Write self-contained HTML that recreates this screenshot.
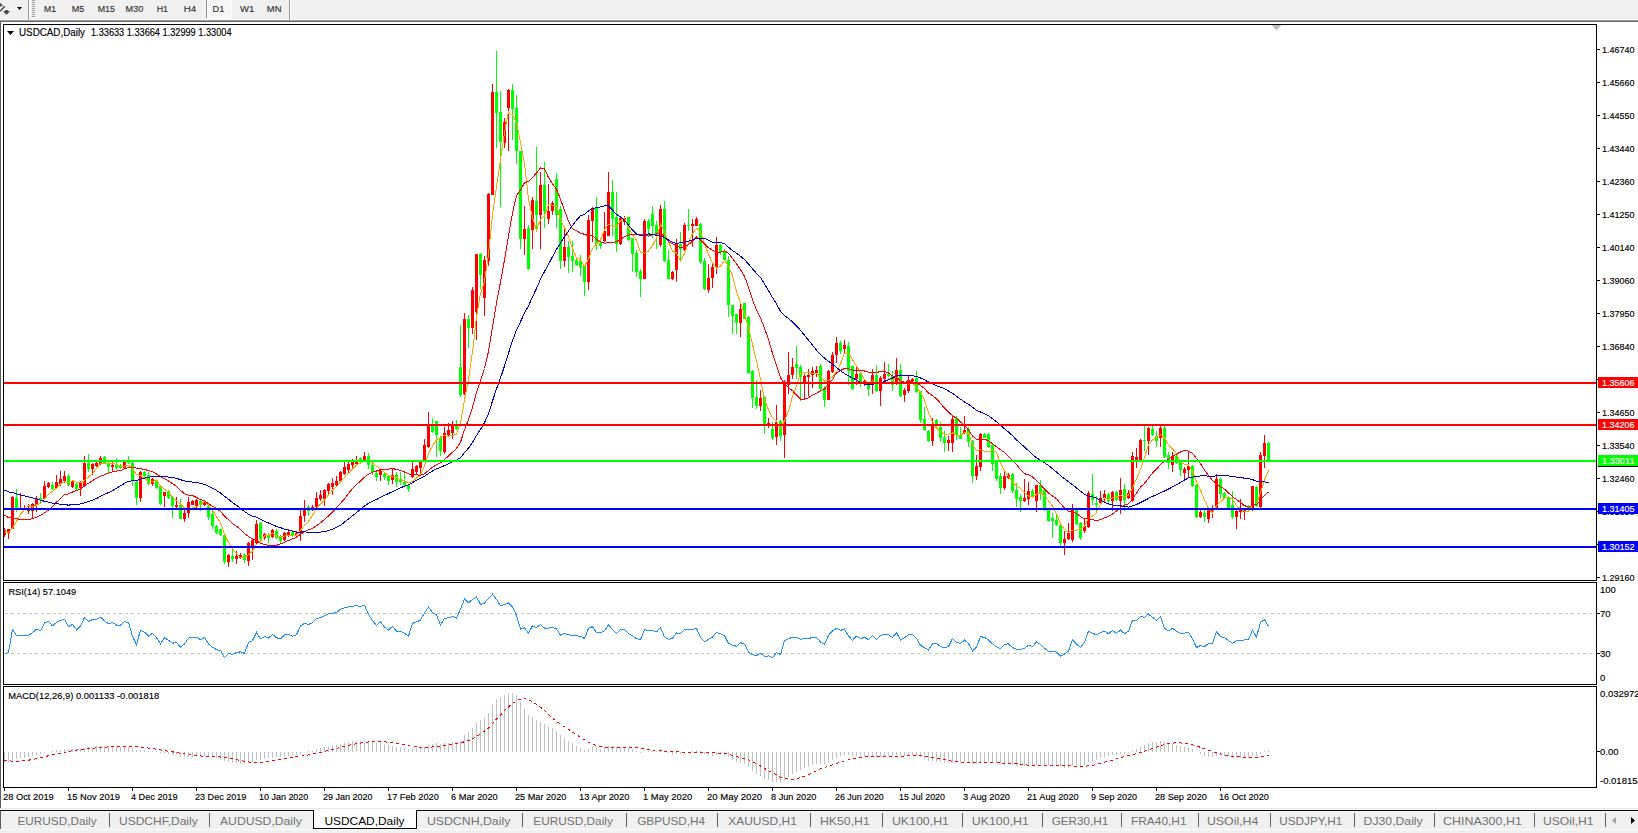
<!DOCTYPE html>
<html><head><meta charset="utf-8"><style>
html,body{margin:0;padding:0;background:#fff;width:1638px;height:833px;overflow:hidden}
svg{display:block;font-family:"Liberation Sans",sans-serif}
text{stroke:currentColor;stroke-width:0.15px}
text.t{stroke:none}
</style></head><body>
<svg width="1638" height="833" viewBox="0 0 1638 833">
<rect x="0" y="0" width="1638" height="19" fill="#f0f0f0"/>
<rect x="0" y="19" width="1638" height="1" fill="#f7f7f7"/>
<rect x="0" y="20" width="1638" height="1" fill="#a0a0a0"/>
<rect x="0" y="21" width="1638" height="1" fill="#6a6a6a"/>
<rect x="0" y="22" width="1638" height="2" fill="#ffffff"/>
<path d="M0 2.8 L3 5.4 L0 6.8 Z" fill="#484848"/>
<path d="M0 11.3 L4.8 6.3" stroke="#484848" stroke-width="1.5" fill="none"/>
<path d="M5.2 10 L7.8 10 L7.8 11 L10 11 L6.5 15 L3 11 L5.2 11 Z" fill="#484848"/>
<path d="M17 7 L22 7 L19.5 10 Z" fill="#000"/>
<rect x="28" y="0" width="1" height="20" fill="#9a9a9a"/>
<rect x="29" y="0" width="1" height="20" fill="#ffffff"/>
<rect x="32" y="0" width="3" height="1" fill="#a0a0a0"/>
<rect x="32" y="2" width="3" height="1" fill="#a0a0a0"/>
<rect x="32" y="4" width="3" height="1" fill="#a0a0a0"/>
<rect x="32" y="6" width="3" height="1" fill="#a0a0a0"/>
<rect x="32" y="8" width="3" height="1" fill="#a0a0a0"/>
<rect x="32" y="10" width="3" height="1" fill="#a0a0a0"/>
<rect x="32" y="12" width="3" height="1" fill="#a0a0a0"/>
<rect x="32" y="14" width="3" height="1" fill="#a0a0a0"/>
<rect x="32" y="16" width="3" height="1" fill="#a0a0a0"/>
<pattern id="chk" width="2" height="2" patternUnits="userSpaceOnUse"><rect width="2" height="2" fill="#f0f0f0"/><rect width="1" height="1" fill="#fff"/><rect x="1" y="1" width="1" height="1" fill="#fff"/></pattern>
<rect x="207" y="0" width="24" height="18" fill="url(#chk)"/>
<rect x="206" y="0" width="1" height="18" fill="#8c8c8c"/>
<rect x="231" y="0" width="1" height="19" fill="#ffffff"/>
<rect x="206" y="18" width="26" height="1" fill="#ffffff"/>
<rect x="289" y="0" width="1" height="20" fill="#9a9a9a"/>
<rect x="290" y="0" width="1" height="20" fill="#ffffff"/>
<text x="43.90" y="12.00" font-size="9.5" fill="#303030" color="#303030" textLength="12.10" lengthAdjust="spacingAndGlyphs">M1</text>
<text x="71.70" y="12.00" font-size="9.5" fill="#303030" color="#303030" textLength="12.50" lengthAdjust="spacingAndGlyphs">M5</text>
<text x="97.70" y="12.00" font-size="9.5" fill="#303030" color="#303030" textLength="17.30" lengthAdjust="spacingAndGlyphs">M15</text>
<text x="125.60" y="12.00" font-size="9.5" fill="#303030" color="#303030" textLength="17.60" lengthAdjust="spacingAndGlyphs">M30</text>
<text x="156.70" y="12.00" font-size="9.5" fill="#303030" color="#303030" textLength="11.30" lengthAdjust="spacingAndGlyphs">H1</text>
<text x="183.70" y="12.00" font-size="9.5" fill="#303030" color="#303030" textLength="12.40" lengthAdjust="spacingAndGlyphs">H4</text>
<text x="212.60" y="12.00" font-size="9.5" fill="#303030" color="#303030" textLength="11.80" lengthAdjust="spacingAndGlyphs">D1</text>
<text x="240.10" y="12.00" font-size="9.5" fill="#303030" color="#303030" textLength="14.30" lengthAdjust="spacingAndGlyphs">W1</text>
<text x="266.80" y="12.00" font-size="9.5" fill="#303030" color="#303030" textLength="14.70" lengthAdjust="spacingAndGlyphs">MN</text>
<rect x="0" y="22" width="1" height="786" fill="#5c5c5c"/>
<g shape-rendering="crispEdges">
<rect x="3.5" y="24.5" width="1593" height="556" fill="none" stroke="#000" stroke-width="1"/>
</g>
<clipPath id="cm"><rect x="4" y="25" width="1592" height="555"/></clipPath>
<clipPath id="cr"><rect x="4" y="583" width="1592" height="101"/></clipPath>
<clipPath id="cd"><rect x="4" y="687" width="1592" height="100"/></clipPath>
<g clip-path="url(#cm)" shape-rendering="crispEdges">
<rect x="4" y="528" width="1" height="9" fill="#ff0000"/>
<rect x="3" y="530" width="3" height="5" fill="#ff0000"/>
<rect x="8" y="529" width="1" height="10" fill="#ff0000"/>
<rect x="7" y="529" width="3" height="4" fill="#ff0000"/>
<rect x="12" y="496" width="1" height="33" fill="#ff0000"/>
<rect x="11" y="497" width="3" height="32" fill="#ff0000"/>
<rect x="16" y="489" width="1" height="23" fill="#00ff00"/>
<rect x="15" y="498" width="3" height="10" fill="#00ff00"/>
<rect x="20" y="493" width="1" height="16" fill="#ff0000"/>
<rect x="19" y="508" width="3" height="1" fill="#ff0000"/>
<rect x="24" y="505" width="1" height="5" fill="#ff0000"/>
<rect x="23" y="508" width="3" height="2" fill="#ff0000"/>
<rect x="28" y="504" width="1" height="10" fill="#ff0000"/>
<rect x="27" y="508" width="3" height="3" fill="#ff0000"/>
<rect x="32" y="503" width="1" height="15" fill="#ff0000"/>
<rect x="31" y="504" width="3" height="7" fill="#ff0000"/>
<rect x="36" y="496" width="1" height="16" fill="#ff0000"/>
<rect x="35" y="498" width="3" height="7" fill="#ff0000"/>
<rect x="40" y="493" width="1" height="11" fill="#00ff00"/>
<rect x="39" y="498" width="3" height="2" fill="#00ff00"/>
<rect x="44" y="481" width="1" height="19" fill="#ff0000"/>
<rect x="43" y="486" width="3" height="13" fill="#ff0000"/>
<rect x="48" y="482" width="1" height="6" fill="#ff0000"/>
<rect x="47" y="483" width="3" height="4" fill="#ff0000"/>
<rect x="52" y="482" width="1" height="8" fill="#00ff00"/>
<rect x="51" y="485" width="3" height="4" fill="#00ff00"/>
<rect x="56" y="475" width="1" height="14" fill="#ff0000"/>
<rect x="55" y="482" width="3" height="6" fill="#ff0000"/>
<rect x="60" y="471" width="1" height="15" fill="#ff0000"/>
<rect x="59" y="479" width="3" height="5" fill="#ff0000"/>
<rect x="64" y="471" width="1" height="12" fill="#ff0000"/>
<rect x="63" y="476" width="3" height="5" fill="#ff0000"/>
<rect x="68" y="474" width="1" height="12" fill="#00ff00"/>
<rect x="67" y="476" width="3" height="9" fill="#00ff00"/>
<rect x="72" y="481" width="1" height="7" fill="#ff0000"/>
<rect x="71" y="481" width="3" height="6" fill="#ff0000"/>
<rect x="76" y="482" width="1" height="8" fill="#00ff00"/>
<rect x="75" y="484" width="3" height="5" fill="#00ff00"/>
<rect x="80" y="481" width="1" height="15" fill="#ff0000"/>
<rect x="79" y="482" width="3" height="6" fill="#ff0000"/>
<rect x="84" y="456" width="1" height="31" fill="#ff0000"/>
<rect x="83" y="463" width="3" height="23" fill="#ff0000"/>
<rect x="88" y="454" width="1" height="18" fill="#00ff00"/>
<rect x="87" y="463" width="3" height="6" fill="#00ff00"/>
<rect x="92" y="463" width="1" height="12" fill="#ff0000"/>
<rect x="91" y="464" width="3" height="5" fill="#ff0000"/>
<rect x="96" y="462" width="1" height="5" fill="#ff0000"/>
<rect x="95" y="463" width="3" height="3" fill="#ff0000"/>
<rect x="100" y="456" width="1" height="9" fill="#ff0000"/>
<rect x="99" y="458" width="3" height="6" fill="#ff0000"/>
<rect x="104" y="456" width="1" height="8" fill="#00ff00"/>
<rect x="103" y="457" width="3" height="6" fill="#00ff00"/>
<rect x="108" y="462" width="1" height="12" fill="#00ff00"/>
<rect x="107" y="464" width="3" height="3" fill="#00ff00"/>
<rect x="112" y="461" width="1" height="10" fill="#ff0000"/>
<rect x="111" y="465" width="3" height="2" fill="#ff0000"/>
<rect x="116" y="458" width="1" height="12" fill="#00ff00"/>
<rect x="115" y="465" width="3" height="3" fill="#00ff00"/>
<rect x="120" y="464" width="1" height="5" fill="#00ff00"/>
<rect x="119" y="465" width="3" height="3" fill="#00ff00"/>
<rect x="124" y="461" width="1" height="8" fill="#ff0000"/>
<rect x="123" y="462" width="3" height="6" fill="#ff0000"/>
<rect x="128" y="456" width="1" height="8" fill="#00ff00"/>
<rect x="127" y="460" width="3" height="3" fill="#00ff00"/>
<rect x="132" y="461" width="1" height="25" fill="#00ff00"/>
<rect x="131" y="463" width="3" height="18" fill="#00ff00"/>
<rect x="136" y="481" width="1" height="24" fill="#00ff00"/>
<rect x="135" y="482" width="3" height="16" fill="#00ff00"/>
<rect x="140" y="471" width="1" height="31" fill="#ff0000"/>
<rect x="139" y="472" width="3" height="26" fill="#ff0000"/>
<rect x="144" y="471" width="1" height="7" fill="#00ff00"/>
<rect x="143" y="472" width="3" height="4" fill="#00ff00"/>
<rect x="148" y="472" width="1" height="13" fill="#00ff00"/>
<rect x="147" y="475" width="3" height="9" fill="#00ff00"/>
<rect x="152" y="478" width="1" height="8" fill="#ff0000"/>
<rect x="151" y="479" width="3" height="5" fill="#ff0000"/>
<rect x="156" y="479" width="1" height="10" fill="#00ff00"/>
<rect x="155" y="481" width="3" height="7" fill="#00ff00"/>
<rect x="160" y="486" width="1" height="19" fill="#00ff00"/>
<rect x="159" y="486" width="3" height="18" fill="#00ff00"/>
<rect x="164" y="492" width="1" height="15" fill="#ff0000"/>
<rect x="163" y="492" width="3" height="4" fill="#ff0000"/>
<rect x="168" y="490" width="1" height="9" fill="#00ff00"/>
<rect x="167" y="491" width="3" height="7" fill="#00ff00"/>
<rect x="172" y="496" width="1" height="22" fill="#00ff00"/>
<rect x="171" y="497" width="3" height="9" fill="#00ff00"/>
<rect x="176" y="497" width="1" height="13" fill="#ff0000"/>
<rect x="175" y="505" width="3" height="2" fill="#ff0000"/>
<rect x="180" y="499" width="1" height="20" fill="#00ff00"/>
<rect x="179" y="505" width="3" height="14" fill="#00ff00"/>
<rect x="184" y="510" width="1" height="12" fill="#ff0000"/>
<rect x="183" y="513" width="3" height="6" fill="#ff0000"/>
<rect x="188" y="497" width="1" height="21" fill="#ff0000"/>
<rect x="187" y="502" width="3" height="11" fill="#ff0000"/>
<rect x="192" y="500" width="1" height="5" fill="#ff0000"/>
<rect x="191" y="501" width="3" height="4" fill="#ff0000"/>
<rect x="196" y="499" width="1" height="11" fill="#ff0000"/>
<rect x="195" y="500" width="3" height="6" fill="#ff0000"/>
<rect x="200" y="499" width="1" height="12" fill="#00ff00"/>
<rect x="199" y="501" width="3" height="4" fill="#00ff00"/>
<rect x="204" y="501" width="1" height="5" fill="#ff0000"/>
<rect x="203" y="502" width="3" height="3" fill="#ff0000"/>
<rect x="208" y="505" width="1" height="15" fill="#00ff00"/>
<rect x="207" y="506" width="3" height="11" fill="#00ff00"/>
<rect x="212" y="511" width="1" height="18" fill="#00ff00"/>
<rect x="211" y="514" width="3" height="12" fill="#00ff00"/>
<rect x="216" y="525" width="1" height="9" fill="#00ff00"/>
<rect x="215" y="526" width="3" height="7" fill="#00ff00"/>
<rect x="220" y="529" width="1" height="7" fill="#00ff00"/>
<rect x="219" y="529" width="3" height="6" fill="#00ff00"/>
<rect x="224" y="534" width="1" height="30" fill="#00ff00"/>
<rect x="223" y="535" width="3" height="27" fill="#00ff00"/>
<rect x="228" y="554" width="1" height="13" fill="#ff0000"/>
<rect x="227" y="555" width="3" height="7" fill="#ff0000"/>
<rect x="232" y="550" width="1" height="12" fill="#00ff00"/>
<rect x="231" y="556" width="3" height="3" fill="#00ff00"/>
<rect x="236" y="551" width="1" height="13" fill="#ff0000"/>
<rect x="235" y="556" width="3" height="3" fill="#ff0000"/>
<rect x="240" y="553" width="1" height="6" fill="#ff0000"/>
<rect x="239" y="555" width="3" height="3" fill="#ff0000"/>
<rect x="244" y="554" width="1" height="9" fill="#00ff00"/>
<rect x="243" y="555" width="3" height="5" fill="#00ff00"/>
<rect x="248" y="542" width="1" height="24" fill="#ff0000"/>
<rect x="247" y="543" width="3" height="18" fill="#ff0000"/>
<rect x="252" y="538" width="1" height="22" fill="#ff0000"/>
<rect x="251" y="540" width="3" height="7" fill="#ff0000"/>
<rect x="256" y="520" width="1" height="25" fill="#ff0000"/>
<rect x="255" y="524" width="3" height="19" fill="#ff0000"/>
<rect x="260" y="522" width="1" height="18" fill="#00ff00"/>
<rect x="259" y="523" width="3" height="16" fill="#00ff00"/>
<rect x="264" y="533" width="1" height="7" fill="#ff0000"/>
<rect x="263" y="534" width="3" height="4" fill="#ff0000"/>
<rect x="268" y="533" width="1" height="10" fill="#00ff00"/>
<rect x="267" y="535" width="3" height="3" fill="#00ff00"/>
<rect x="272" y="529" width="1" height="9" fill="#ff0000"/>
<rect x="271" y="530" width="3" height="7" fill="#ff0000"/>
<rect x="276" y="529" width="1" height="10" fill="#00ff00"/>
<rect x="275" y="531" width="3" height="7" fill="#00ff00"/>
<rect x="280" y="535" width="1" height="8" fill="#00ff00"/>
<rect x="279" y="537" width="3" height="4" fill="#00ff00"/>
<rect x="284" y="532" width="1" height="9" fill="#ff0000"/>
<rect x="283" y="533" width="3" height="7" fill="#ff0000"/>
<rect x="288" y="529" width="1" height="8" fill="#ff0000"/>
<rect x="287" y="532" width="3" height="4" fill="#ff0000"/>
<rect x="292" y="530" width="1" height="7" fill="#00ff00"/>
<rect x="291" y="532" width="3" height="4" fill="#00ff00"/>
<rect x="296" y="531" width="1" height="6" fill="#ff0000"/>
<rect x="295" y="533" width="3" height="2" fill="#ff0000"/>
<rect x="300" y="510" width="1" height="31" fill="#ff0000"/>
<rect x="299" y="516" width="3" height="17" fill="#ff0000"/>
<rect x="304" y="500" width="1" height="22" fill="#ff0000"/>
<rect x="303" y="509" width="3" height="7" fill="#ff0000"/>
<rect x="308" y="505" width="1" height="11" fill="#00ff00"/>
<rect x="307" y="507" width="3" height="4" fill="#00ff00"/>
<rect x="312" y="505" width="1" height="6" fill="#ff0000"/>
<rect x="311" y="507" width="3" height="3" fill="#ff0000"/>
<rect x="316" y="492" width="1" height="17" fill="#ff0000"/>
<rect x="315" y="498" width="3" height="9" fill="#ff0000"/>
<rect x="320" y="490" width="1" height="11" fill="#ff0000"/>
<rect x="319" y="495" width="3" height="4" fill="#ff0000"/>
<rect x="324" y="489" width="1" height="17" fill="#ff0000"/>
<rect x="323" y="490" width="3" height="9" fill="#ff0000"/>
<rect x="328" y="483" width="1" height="12" fill="#ff0000"/>
<rect x="327" y="484" width="3" height="7" fill="#ff0000"/>
<rect x="332" y="478" width="1" height="17" fill="#ff0000"/>
<rect x="331" y="483" width="3" height="4" fill="#ff0000"/>
<rect x="336" y="476" width="1" height="10" fill="#ff0000"/>
<rect x="335" y="481" width="3" height="4" fill="#ff0000"/>
<rect x="340" y="471" width="1" height="11" fill="#ff0000"/>
<rect x="339" y="472" width="3" height="9" fill="#ff0000"/>
<rect x="344" y="462" width="1" height="13" fill="#ff0000"/>
<rect x="343" y="467" width="3" height="7" fill="#ff0000"/>
<rect x="348" y="461" width="1" height="12" fill="#ff0000"/>
<rect x="347" y="464" width="3" height="6" fill="#ff0000"/>
<rect x="352" y="459" width="1" height="11" fill="#ff0000"/>
<rect x="351" y="462" width="3" height="3" fill="#ff0000"/>
<rect x="356" y="456" width="1" height="10" fill="#ff0000"/>
<rect x="355" y="460" width="3" height="4" fill="#ff0000"/>
<rect x="360" y="457" width="1" height="7" fill="#00ff00"/>
<rect x="359" y="458" width="3" height="3" fill="#00ff00"/>
<rect x="364" y="452" width="1" height="9" fill="#ff0000"/>
<rect x="363" y="456" width="3" height="4" fill="#ff0000"/>
<rect x="368" y="453" width="1" height="16" fill="#00ff00"/>
<rect x="367" y="456" width="3" height="9" fill="#00ff00"/>
<rect x="372" y="463" width="1" height="12" fill="#00ff00"/>
<rect x="371" y="465" width="3" height="7" fill="#00ff00"/>
<rect x="376" y="471" width="1" height="10" fill="#00ff00"/>
<rect x="375" y="473" width="3" height="4" fill="#00ff00"/>
<rect x="380" y="469" width="1" height="12" fill="#ff0000"/>
<rect x="379" y="471" width="3" height="4" fill="#ff0000"/>
<rect x="384" y="473" width="1" height="7" fill="#00ff00"/>
<rect x="383" y="474" width="3" height="3" fill="#00ff00"/>
<rect x="388" y="475" width="1" height="10" fill="#00ff00"/>
<rect x="387" y="476" width="3" height="5" fill="#00ff00"/>
<rect x="392" y="468" width="1" height="16" fill="#ff0000"/>
<rect x="391" y="475" width="3" height="5" fill="#ff0000"/>
<rect x="396" y="472" width="1" height="15" fill="#00ff00"/>
<rect x="395" y="475" width="3" height="7" fill="#00ff00"/>
<rect x="400" y="472" width="1" height="13" fill="#00ff00"/>
<rect x="399" y="479" width="3" height="3" fill="#00ff00"/>
<rect x="404" y="472" width="1" height="14" fill="#00ff00"/>
<rect x="403" y="482" width="3" height="3" fill="#00ff00"/>
<rect x="408" y="484" width="1" height="8" fill="#00ff00"/>
<rect x="407" y="485" width="3" height="4" fill="#00ff00"/>
<rect x="412" y="462" width="1" height="16" fill="#ff0000"/>
<rect x="411" y="469" width="3" height="8" fill="#ff0000"/>
<rect x="416" y="465" width="1" height="9" fill="#ff0000"/>
<rect x="415" y="466" width="3" height="6" fill="#ff0000"/>
<rect x="420" y="461" width="1" height="12" fill="#ff0000"/>
<rect x="419" y="462" width="3" height="6" fill="#ff0000"/>
<rect x="424" y="439" width="1" height="22" fill="#ff0000"/>
<rect x="423" y="445" width="3" height="15" fill="#ff0000"/>
<rect x="428" y="412" width="1" height="36" fill="#ff0000"/>
<rect x="427" y="425" width="3" height="22" fill="#ff0000"/>
<rect x="432" y="418" width="1" height="15" fill="#00ff00"/>
<rect x="431" y="426" width="3" height="6" fill="#00ff00"/>
<rect x="436" y="421" width="1" height="36" fill="#00ff00"/>
<rect x="435" y="421" width="3" height="14" fill="#00ff00"/>
<rect x="440" y="436" width="1" height="20" fill="#00ff00"/>
<rect x="439" y="438" width="3" height="13" fill="#00ff00"/>
<rect x="444" y="427" width="1" height="27" fill="#ff0000"/>
<rect x="443" y="433" width="3" height="19" fill="#ff0000"/>
<rect x="448" y="423" width="1" height="14" fill="#ff0000"/>
<rect x="447" y="430" width="3" height="5" fill="#ff0000"/>
<rect x="452" y="421" width="1" height="18" fill="#ff0000"/>
<rect x="451" y="426" width="3" height="7" fill="#ff0000"/>
<rect x="456" y="420" width="1" height="10" fill="#00ff00"/>
<rect x="455" y="425" width="3" height="4" fill="#00ff00"/>
<rect x="460" y="325" width="1" height="72" fill="#00ff00"/>
<rect x="459" y="367" width="3" height="28" fill="#00ff00"/>
<rect x="464" y="313" width="1" height="82" fill="#ff0000"/>
<rect x="463" y="319" width="3" height="75" fill="#ff0000"/>
<rect x="468" y="315" width="1" height="33" fill="#00ff00"/>
<rect x="467" y="319" width="3" height="9" fill="#00ff00"/>
<rect x="472" y="287" width="1" height="47" fill="#ff0000"/>
<rect x="471" y="290" width="3" height="38" fill="#ff0000"/>
<rect x="476" y="254" width="1" height="86" fill="#ff0000"/>
<rect x="475" y="254" width="3" height="58" fill="#ff0000"/>
<rect x="480" y="253" width="1" height="36" fill="#00ff00"/>
<rect x="479" y="254" width="3" height="21" fill="#00ff00"/>
<rect x="484" y="256" width="1" height="60" fill="#ff0000"/>
<rect x="483" y="260" width="3" height="38" fill="#ff0000"/>
<rect x="488" y="193" width="1" height="73" fill="#ff0000"/>
<rect x="487" y="194" width="3" height="67" fill="#ff0000"/>
<rect x="492" y="84" width="1" height="111" fill="#ff0000"/>
<rect x="491" y="92" width="3" height="103" fill="#ff0000"/>
<rect x="496" y="51" width="1" height="97" fill="#00ff00"/>
<rect x="495" y="92" width="3" height="21" fill="#00ff00"/>
<rect x="500" y="91" width="1" height="116" fill="#00ff00"/>
<rect x="499" y="112" width="3" height="30" fill="#00ff00"/>
<rect x="504" y="118" width="1" height="30" fill="#ff0000"/>
<rect x="503" y="122" width="3" height="21" fill="#ff0000"/>
<rect x="508" y="89" width="1" height="62" fill="#ff0000"/>
<rect x="507" y="90" width="3" height="18" fill="#ff0000"/>
<rect x="512" y="84" width="1" height="56" fill="#00ff00"/>
<rect x="511" y="90" width="3" height="19" fill="#00ff00"/>
<rect x="516" y="95" width="1" height="69" fill="#00ff00"/>
<rect x="515" y="108" width="3" height="43" fill="#00ff00"/>
<rect x="520" y="151" width="1" height="98" fill="#00ff00"/>
<rect x="519" y="151" width="3" height="88" fill="#00ff00"/>
<rect x="524" y="206" width="1" height="49" fill="#ff0000"/>
<rect x="523" y="229" width="3" height="10" fill="#ff0000"/>
<rect x="528" y="225" width="1" height="45" fill="#00ff00"/>
<rect x="527" y="228" width="3" height="41" fill="#00ff00"/>
<rect x="532" y="197" width="1" height="52" fill="#ff0000"/>
<rect x="531" y="200" width="3" height="30" fill="#ff0000"/>
<rect x="536" y="147" width="1" height="85" fill="#00ff00"/>
<rect x="535" y="201" width="3" height="14" fill="#00ff00"/>
<rect x="540" y="172" width="1" height="77" fill="#ff0000"/>
<rect x="539" y="185" width="3" height="30" fill="#ff0000"/>
<rect x="544" y="162" width="1" height="66" fill="#00ff00"/>
<rect x="543" y="185" width="3" height="26" fill="#00ff00"/>
<rect x="548" y="184" width="1" height="40" fill="#ff0000"/>
<rect x="547" y="211" width="3" height="8" fill="#ff0000"/>
<rect x="552" y="201" width="1" height="14" fill="#ff0000"/>
<rect x="551" y="203" width="3" height="8" fill="#ff0000"/>
<rect x="556" y="173" width="1" height="55" fill="#00ff00"/>
<rect x="555" y="179" width="3" height="36" fill="#00ff00"/>
<rect x="560" y="206" width="1" height="63" fill="#00ff00"/>
<rect x="559" y="209" width="3" height="52" fill="#00ff00"/>
<rect x="564" y="228" width="1" height="39" fill="#ff0000"/>
<rect x="563" y="247" width="3" height="14" fill="#ff0000"/>
<rect x="568" y="241" width="1" height="32" fill="#00ff00"/>
<rect x="567" y="247" width="3" height="10" fill="#00ff00"/>
<rect x="572" y="241" width="1" height="31" fill="#00ff00"/>
<rect x="571" y="256" width="3" height="5" fill="#00ff00"/>
<rect x="576" y="258" width="1" height="8" fill="#00ff00"/>
<rect x="575" y="260" width="3" height="5" fill="#00ff00"/>
<rect x="580" y="255" width="1" height="21" fill="#00ff00"/>
<rect x="579" y="261" width="3" height="6" fill="#00ff00"/>
<rect x="584" y="265" width="1" height="31" fill="#00ff00"/>
<rect x="583" y="266" width="3" height="16" fill="#00ff00"/>
<rect x="588" y="215" width="1" height="75" fill="#ff0000"/>
<rect x="587" y="220" width="3" height="62" fill="#ff0000"/>
<rect x="592" y="207" width="1" height="35" fill="#ff0000"/>
<rect x="591" y="208" width="3" height="13" fill="#ff0000"/>
<rect x="596" y="197" width="1" height="53" fill="#00ff00"/>
<rect x="595" y="208" width="3" height="36" fill="#00ff00"/>
<rect x="600" y="242" width="1" height="7" fill="#00ff00"/>
<rect x="599" y="243" width="3" height="3" fill="#00ff00"/>
<rect x="604" y="212" width="1" height="30" fill="#ff0000"/>
<rect x="603" y="231" width="3" height="10" fill="#ff0000"/>
<rect x="608" y="172" width="1" height="64" fill="#ff0000"/>
<rect x="607" y="192" width="3" height="44" fill="#ff0000"/>
<rect x="612" y="180" width="1" height="56" fill="#00ff00"/>
<rect x="611" y="192" width="3" height="27" fill="#00ff00"/>
<rect x="616" y="192" width="1" height="60" fill="#00ff00"/>
<rect x="615" y="217" width="3" height="27" fill="#00ff00"/>
<rect x="620" y="216" width="1" height="29" fill="#ff0000"/>
<rect x="619" y="218" width="3" height="26" fill="#ff0000"/>
<rect x="624" y="216" width="1" height="9" fill="#ff0000"/>
<rect x="623" y="218" width="3" height="4" fill="#ff0000"/>
<rect x="628" y="217" width="1" height="24" fill="#00ff00"/>
<rect x="627" y="217" width="3" height="23" fill="#00ff00"/>
<rect x="632" y="238" width="1" height="34" fill="#00ff00"/>
<rect x="631" y="238" width="3" height="16" fill="#00ff00"/>
<rect x="636" y="250" width="1" height="27" fill="#00ff00"/>
<rect x="635" y="253" width="3" height="19" fill="#00ff00"/>
<rect x="640" y="269" width="1" height="28" fill="#00ff00"/>
<rect x="639" y="271" width="3" height="8" fill="#00ff00"/>
<rect x="644" y="219" width="1" height="60" fill="#ff0000"/>
<rect x="643" y="221" width="3" height="58" fill="#ff0000"/>
<rect x="648" y="219" width="1" height="17" fill="#00ff00"/>
<rect x="647" y="221" width="3" height="8" fill="#00ff00"/>
<rect x="652" y="206" width="1" height="32" fill="#00ff00"/>
<rect x="651" y="214" width="3" height="12" fill="#00ff00"/>
<rect x="656" y="221" width="1" height="28" fill="#00ff00"/>
<rect x="655" y="225" width="3" height="9" fill="#00ff00"/>
<rect x="660" y="205" width="1" height="42" fill="#ff0000"/>
<rect x="659" y="209" width="3" height="36" fill="#ff0000"/>
<rect x="664" y="201" width="1" height="61" fill="#00ff00"/>
<rect x="663" y="209" width="3" height="52" fill="#00ff00"/>
<rect x="668" y="250" width="1" height="29" fill="#00ff00"/>
<rect x="667" y="260" width="3" height="19" fill="#00ff00"/>
<rect x="672" y="271" width="1" height="9" fill="#ff0000"/>
<rect x="671" y="272" width="3" height="7" fill="#ff0000"/>
<rect x="676" y="239" width="1" height="43" fill="#ff0000"/>
<rect x="675" y="244" width="3" height="26" fill="#ff0000"/>
<rect x="680" y="232" width="1" height="29" fill="#00ff00"/>
<rect x="679" y="244" width="3" height="5" fill="#00ff00"/>
<rect x="684" y="223" width="1" height="28" fill="#ff0000"/>
<rect x="683" y="225" width="3" height="25" fill="#ff0000"/>
<rect x="688" y="209" width="1" height="22" fill="#00ff00"/>
<rect x="687" y="225" width="3" height="1" fill="#00ff00"/>
<rect x="692" y="219" width="1" height="28" fill="#ff0000"/>
<rect x="691" y="224" width="3" height="2" fill="#ff0000"/>
<rect x="696" y="217" width="1" height="9" fill="#ff0000"/>
<rect x="695" y="219" width="3" height="7" fill="#ff0000"/>
<rect x="700" y="223" width="1" height="41" fill="#00ff00"/>
<rect x="699" y="224" width="3" height="38" fill="#00ff00"/>
<rect x="704" y="258" width="1" height="32" fill="#00ff00"/>
<rect x="703" y="261" width="3" height="28" fill="#00ff00"/>
<rect x="708" y="264" width="1" height="29" fill="#ff0000"/>
<rect x="707" y="278" width="3" height="12" fill="#ff0000"/>
<rect x="712" y="264" width="1" height="24" fill="#ff0000"/>
<rect x="711" y="267" width="3" height="11" fill="#ff0000"/>
<rect x="716" y="237" width="1" height="37" fill="#ff0000"/>
<rect x="715" y="245" width="3" height="23" fill="#ff0000"/>
<rect x="720" y="244" width="1" height="11" fill="#00ff00"/>
<rect x="719" y="245" width="3" height="7" fill="#00ff00"/>
<rect x="724" y="249" width="1" height="12" fill="#00ff00"/>
<rect x="723" y="251" width="3" height="9" fill="#00ff00"/>
<rect x="728" y="256" width="1" height="61" fill="#00ff00"/>
<rect x="727" y="260" width="3" height="45" fill="#00ff00"/>
<rect x="732" y="305" width="1" height="29" fill="#00ff00"/>
<rect x="731" y="305" width="3" height="11" fill="#00ff00"/>
<rect x="736" y="314" width="1" height="20" fill="#00ff00"/>
<rect x="735" y="314" width="3" height="9" fill="#00ff00"/>
<rect x="740" y="304" width="1" height="33" fill="#ff0000"/>
<rect x="739" y="309" width="3" height="14" fill="#ff0000"/>
<rect x="744" y="303" width="1" height="16" fill="#00ff00"/>
<rect x="743" y="303" width="3" height="16" fill="#00ff00"/>
<rect x="748" y="316" width="1" height="58" fill="#00ff00"/>
<rect x="747" y="317" width="3" height="56" fill="#00ff00"/>
<rect x="752" y="370" width="1" height="38" fill="#00ff00"/>
<rect x="751" y="371" width="3" height="27" fill="#00ff00"/>
<rect x="756" y="380" width="1" height="29" fill="#00ff00"/>
<rect x="755" y="397" width="3" height="9" fill="#00ff00"/>
<rect x="760" y="390" width="1" height="21" fill="#ff0000"/>
<rect x="759" y="398" width="3" height="8" fill="#ff0000"/>
<rect x="764" y="396" width="1" height="38" fill="#00ff00"/>
<rect x="763" y="397" width="3" height="27" fill="#00ff00"/>
<rect x="768" y="418" width="1" height="10" fill="#ff0000"/>
<rect x="767" y="423" width="3" height="2" fill="#ff0000"/>
<rect x="772" y="422" width="1" height="18" fill="#00ff00"/>
<rect x="771" y="429" width="3" height="9" fill="#00ff00"/>
<rect x="776" y="405" width="1" height="40" fill="#ff0000"/>
<rect x="775" y="422" width="3" height="15" fill="#ff0000"/>
<rect x="780" y="420" width="1" height="21" fill="#00ff00"/>
<rect x="779" y="421" width="3" height="15" fill="#00ff00"/>
<rect x="784" y="380" width="1" height="78" fill="#ff0000"/>
<rect x="783" y="383" width="3" height="52" fill="#ff0000"/>
<rect x="788" y="352" width="1" height="42" fill="#ff0000"/>
<rect x="787" y="375" width="3" height="10" fill="#ff0000"/>
<rect x="792" y="358" width="1" height="21" fill="#ff0000"/>
<rect x="791" y="367" width="3" height="8" fill="#ff0000"/>
<rect x="796" y="346" width="1" height="33" fill="#00ff00"/>
<rect x="795" y="364" width="3" height="4" fill="#00ff00"/>
<rect x="800" y="365" width="1" height="36" fill="#00ff00"/>
<rect x="799" y="367" width="3" height="10" fill="#00ff00"/>
<rect x="804" y="374" width="1" height="25" fill="#ff0000"/>
<rect x="803" y="376" width="3" height="8" fill="#ff0000"/>
<rect x="808" y="369" width="1" height="27" fill="#ff0000"/>
<rect x="807" y="375" width="3" height="2" fill="#ff0000"/>
<rect x="812" y="367" width="1" height="21" fill="#ff0000"/>
<rect x="811" y="371" width="3" height="4" fill="#ff0000"/>
<rect x="816" y="366" width="1" height="11" fill="#ff0000"/>
<rect x="815" y="370" width="3" height="3" fill="#ff0000"/>
<rect x="820" y="364" width="1" height="28" fill="#00ff00"/>
<rect x="819" y="366" width="3" height="23" fill="#00ff00"/>
<rect x="824" y="386" width="1" height="21" fill="#00ff00"/>
<rect x="823" y="388" width="3" height="12" fill="#00ff00"/>
<rect x="828" y="370" width="1" height="30" fill="#ff0000"/>
<rect x="827" y="371" width="3" height="29" fill="#ff0000"/>
<rect x="832" y="352" width="1" height="21" fill="#ff0000"/>
<rect x="831" y="355" width="3" height="17" fill="#ff0000"/>
<rect x="836" y="337" width="1" height="26" fill="#ff0000"/>
<rect x="835" y="343" width="3" height="12" fill="#ff0000"/>
<rect x="840" y="341" width="1" height="13" fill="#00ff00"/>
<rect x="839" y="343" width="3" height="8" fill="#00ff00"/>
<rect x="844" y="340" width="1" height="14" fill="#ff0000"/>
<rect x="843" y="345" width="3" height="4" fill="#ff0000"/>
<rect x="848" y="342" width="1" height="43" fill="#00ff00"/>
<rect x="847" y="346" width="3" height="25" fill="#00ff00"/>
<rect x="852" y="366" width="1" height="24" fill="#00ff00"/>
<rect x="851" y="366" width="3" height="23" fill="#00ff00"/>
<rect x="856" y="365" width="1" height="20" fill="#ff0000"/>
<rect x="855" y="374" width="3" height="5" fill="#ff0000"/>
<rect x="860" y="372" width="1" height="15" fill="#00ff00"/>
<rect x="859" y="373" width="3" height="11" fill="#00ff00"/>
<rect x="864" y="379" width="1" height="7" fill="#ff0000"/>
<rect x="863" y="381" width="3" height="2" fill="#ff0000"/>
<rect x="868" y="382" width="1" height="14" fill="#00ff00"/>
<rect x="867" y="385" width="3" height="4" fill="#00ff00"/>
<rect x="872" y="369" width="1" height="25" fill="#ff0000"/>
<rect x="871" y="375" width="3" height="10" fill="#ff0000"/>
<rect x="876" y="365" width="1" height="27" fill="#00ff00"/>
<rect x="875" y="375" width="3" height="16" fill="#00ff00"/>
<rect x="880" y="376" width="1" height="30" fill="#ff0000"/>
<rect x="879" y="378" width="3" height="13" fill="#ff0000"/>
<rect x="884" y="362" width="1" height="19" fill="#ff0000"/>
<rect x="883" y="374" width="3" height="5" fill="#ff0000"/>
<rect x="888" y="364" width="1" height="13" fill="#00ff00"/>
<rect x="887" y="374" width="3" height="2" fill="#00ff00"/>
<rect x="892" y="371" width="1" height="20" fill="#00ff00"/>
<rect x="891" y="376" width="3" height="9" fill="#00ff00"/>
<rect x="896" y="358" width="1" height="27" fill="#ff0000"/>
<rect x="895" y="370" width="3" height="14" fill="#ff0000"/>
<rect x="900" y="364" width="1" height="33" fill="#00ff00"/>
<rect x="899" y="370" width="3" height="26" fill="#00ff00"/>
<rect x="904" y="388" width="1" height="14" fill="#ff0000"/>
<rect x="903" y="390" width="3" height="5" fill="#ff0000"/>
<rect x="908" y="375" width="1" height="18" fill="#ff0000"/>
<rect x="907" y="380" width="3" height="11" fill="#ff0000"/>
<rect x="912" y="378" width="1" height="4" fill="#ff0000"/>
<rect x="911" y="379" width="3" height="2" fill="#ff0000"/>
<rect x="916" y="371" width="1" height="22" fill="#00ff00"/>
<rect x="915" y="378" width="3" height="14" fill="#00ff00"/>
<rect x="920" y="391" width="1" height="32" fill="#00ff00"/>
<rect x="919" y="391" width="3" height="29" fill="#00ff00"/>
<rect x="924" y="407" width="1" height="24" fill="#00ff00"/>
<rect x="923" y="419" width="3" height="11" fill="#00ff00"/>
<rect x="928" y="430" width="1" height="12" fill="#00ff00"/>
<rect x="927" y="431" width="3" height="10" fill="#00ff00"/>
<rect x="932" y="418" width="1" height="28" fill="#ff0000"/>
<rect x="931" y="425" width="3" height="16" fill="#ff0000"/>
<rect x="936" y="419" width="1" height="8" fill="#00ff00"/>
<rect x="935" y="420" width="3" height="4" fill="#00ff00"/>
<rect x="940" y="422" width="1" height="20" fill="#00ff00"/>
<rect x="939" y="427" width="3" height="11" fill="#00ff00"/>
<rect x="944" y="431" width="1" height="21" fill="#00ff00"/>
<rect x="943" y="437" width="3" height="6" fill="#00ff00"/>
<rect x="948" y="436" width="1" height="15" fill="#ff0000"/>
<rect x="947" y="440" width="3" height="3" fill="#ff0000"/>
<rect x="952" y="415" width="1" height="37" fill="#ff0000"/>
<rect x="951" y="419" width="3" height="24" fill="#ff0000"/>
<rect x="956" y="416" width="1" height="24" fill="#00ff00"/>
<rect x="955" y="418" width="3" height="17" fill="#00ff00"/>
<rect x="960" y="427" width="1" height="12" fill="#00ff00"/>
<rect x="959" y="435" width="3" height="4" fill="#00ff00"/>
<rect x="964" y="416" width="1" height="18" fill="#ff0000"/>
<rect x="963" y="430" width="3" height="3" fill="#ff0000"/>
<rect x="968" y="427" width="1" height="20" fill="#00ff00"/>
<rect x="967" y="429" width="3" height="13" fill="#00ff00"/>
<rect x="972" y="440" width="1" height="43" fill="#00ff00"/>
<rect x="971" y="441" width="3" height="35" fill="#00ff00"/>
<rect x="976" y="455" width="1" height="25" fill="#ff0000"/>
<rect x="975" y="466" width="3" height="10" fill="#ff0000"/>
<rect x="980" y="433" width="1" height="38" fill="#ff0000"/>
<rect x="979" y="434" width="3" height="33" fill="#ff0000"/>
<rect x="984" y="433" width="1" height="5" fill="#00ff00"/>
<rect x="983" y="434" width="3" height="4" fill="#00ff00"/>
<rect x="988" y="433" width="1" height="15" fill="#00ff00"/>
<rect x="987" y="434" width="3" height="13" fill="#00ff00"/>
<rect x="992" y="443" width="1" height="28" fill="#00ff00"/>
<rect x="991" y="445" width="3" height="19" fill="#00ff00"/>
<rect x="996" y="460" width="1" height="21" fill="#00ff00"/>
<rect x="995" y="461" width="3" height="18" fill="#00ff00"/>
<rect x="1000" y="473" width="1" height="21" fill="#00ff00"/>
<rect x="999" y="476" width="3" height="12" fill="#00ff00"/>
<rect x="1004" y="471" width="1" height="19" fill="#ff0000"/>
<rect x="1003" y="476" width="3" height="12" fill="#ff0000"/>
<rect x="1008" y="473" width="1" height="6" fill="#ff0000"/>
<rect x="1007" y="475" width="3" height="3" fill="#ff0000"/>
<rect x="1012" y="473" width="1" height="20" fill="#00ff00"/>
<rect x="1011" y="474" width="3" height="17" fill="#00ff00"/>
<rect x="1016" y="483" width="1" height="24" fill="#00ff00"/>
<rect x="1015" y="490" width="3" height="9" fill="#00ff00"/>
<rect x="1020" y="494" width="1" height="18" fill="#00ff00"/>
<rect x="1019" y="497" width="3" height="4" fill="#00ff00"/>
<rect x="1024" y="479" width="1" height="23" fill="#ff0000"/>
<rect x="1023" y="498" width="3" height="3" fill="#ff0000"/>
<rect x="1028" y="482" width="1" height="23" fill="#ff0000"/>
<rect x="1027" y="491" width="3" height="8" fill="#ff0000"/>
<rect x="1032" y="489" width="1" height="9" fill="#00ff00"/>
<rect x="1031" y="491" width="3" height="5" fill="#00ff00"/>
<rect x="1036" y="485" width="1" height="27" fill="#ff0000"/>
<rect x="1035" y="485" width="3" height="16" fill="#ff0000"/>
<rect x="1040" y="480" width="1" height="20" fill="#00ff00"/>
<rect x="1039" y="485" width="3" height="9" fill="#00ff00"/>
<rect x="1044" y="489" width="1" height="22" fill="#00ff00"/>
<rect x="1043" y="490" width="3" height="19" fill="#00ff00"/>
<rect x="1048" y="508" width="1" height="14" fill="#00ff00"/>
<rect x="1047" y="509" width="3" height="12" fill="#00ff00"/>
<rect x="1052" y="513" width="1" height="25" fill="#00ff00"/>
<rect x="1051" y="518" width="3" height="3" fill="#00ff00"/>
<rect x="1056" y="513" width="1" height="13" fill="#00ff00"/>
<rect x="1055" y="520" width="3" height="5" fill="#00ff00"/>
<rect x="1060" y="524" width="1" height="22" fill="#00ff00"/>
<rect x="1059" y="525" width="3" height="18" fill="#00ff00"/>
<rect x="1064" y="531" width="1" height="24" fill="#ff0000"/>
<rect x="1063" y="539" width="3" height="4" fill="#ff0000"/>
<rect x="1068" y="523" width="1" height="17" fill="#ff0000"/>
<rect x="1067" y="533" width="3" height="6" fill="#ff0000"/>
<rect x="1072" y="504" width="1" height="38" fill="#ff0000"/>
<rect x="1071" y="510" width="3" height="30" fill="#ff0000"/>
<rect x="1076" y="508" width="1" height="17" fill="#00ff00"/>
<rect x="1075" y="509" width="3" height="15" fill="#00ff00"/>
<rect x="1080" y="522" width="1" height="18" fill="#00ff00"/>
<rect x="1079" y="523" width="3" height="15" fill="#00ff00"/>
<rect x="1084" y="518" width="1" height="15" fill="#ff0000"/>
<rect x="1083" y="526" width="3" height="5" fill="#ff0000"/>
<rect x="1088" y="491" width="1" height="37" fill="#ff0000"/>
<rect x="1087" y="493" width="3" height="34" fill="#ff0000"/>
<rect x="1092" y="474" width="1" height="31" fill="#00ff00"/>
<rect x="1091" y="494" width="3" height="6" fill="#00ff00"/>
<rect x="1096" y="496" width="1" height="16" fill="#00ff00"/>
<rect x="1095" y="503" width="3" height="2" fill="#00ff00"/>
<rect x="1100" y="491" width="1" height="13" fill="#ff0000"/>
<rect x="1099" y="498" width="3" height="5" fill="#ff0000"/>
<rect x="1104" y="490" width="1" height="13" fill="#ff0000"/>
<rect x="1103" y="494" width="3" height="4" fill="#ff0000"/>
<rect x="1108" y="493" width="1" height="12" fill="#00ff00"/>
<rect x="1107" y="494" width="3" height="7" fill="#00ff00"/>
<rect x="1112" y="491" width="1" height="20" fill="#ff0000"/>
<rect x="1111" y="492" width="3" height="9" fill="#ff0000"/>
<rect x="1116" y="491" width="1" height="10" fill="#00ff00"/>
<rect x="1115" y="492" width="3" height="8" fill="#00ff00"/>
<rect x="1120" y="478" width="1" height="36" fill="#ff0000"/>
<rect x="1119" y="490" width="3" height="11" fill="#ff0000"/>
<rect x="1124" y="484" width="1" height="27" fill="#00ff00"/>
<rect x="1123" y="489" width="3" height="11" fill="#00ff00"/>
<rect x="1128" y="490" width="1" height="9" fill="#ff0000"/>
<rect x="1127" y="493" width="3" height="5" fill="#ff0000"/>
<rect x="1132" y="452" width="1" height="50" fill="#ff0000"/>
<rect x="1131" y="456" width="3" height="45" fill="#ff0000"/>
<rect x="1136" y="448" width="1" height="20" fill="#ff0000"/>
<rect x="1135" y="457" width="3" height="5" fill="#ff0000"/>
<rect x="1140" y="439" width="1" height="21" fill="#ff0000"/>
<rect x="1139" y="440" width="3" height="20" fill="#ff0000"/>
<rect x="1144" y="426" width="1" height="25" fill="#00ff00"/>
<rect x="1143" y="440" width="3" height="1" fill="#00ff00"/>
<rect x="1148" y="427" width="1" height="28" fill="#ff0000"/>
<rect x="1147" y="428" width="3" height="13" fill="#ff0000"/>
<rect x="1152" y="426" width="1" height="10" fill="#00ff00"/>
<rect x="1151" y="429" width="3" height="6" fill="#00ff00"/>
<rect x="1156" y="431" width="1" height="16" fill="#00ff00"/>
<rect x="1155" y="436" width="3" height="5" fill="#00ff00"/>
<rect x="1160" y="426" width="1" height="21" fill="#ff0000"/>
<rect x="1159" y="428" width="3" height="10" fill="#ff0000"/>
<rect x="1164" y="426" width="1" height="32" fill="#00ff00"/>
<rect x="1163" y="428" width="3" height="29" fill="#00ff00"/>
<rect x="1168" y="452" width="1" height="17" fill="#00ff00"/>
<rect x="1167" y="455" width="3" height="8" fill="#00ff00"/>
<rect x="1172" y="452" width="1" height="20" fill="#ff0000"/>
<rect x="1171" y="456" width="3" height="9" fill="#ff0000"/>
<rect x="1176" y="455" width="1" height="9" fill="#00ff00"/>
<rect x="1175" y="456" width="3" height="7" fill="#00ff00"/>
<rect x="1180" y="460" width="1" height="16" fill="#00ff00"/>
<rect x="1179" y="461" width="3" height="9" fill="#00ff00"/>
<rect x="1184" y="467" width="1" height="13" fill="#ff0000"/>
<rect x="1183" y="469" width="3" height="4" fill="#ff0000"/>
<rect x="1188" y="451" width="1" height="26" fill="#ff0000"/>
<rect x="1187" y="466" width="3" height="4" fill="#ff0000"/>
<rect x="1192" y="465" width="1" height="22" fill="#00ff00"/>
<rect x="1191" y="466" width="3" height="20" fill="#00ff00"/>
<rect x="1196" y="484" width="1" height="34" fill="#00ff00"/>
<rect x="1195" y="485" width="3" height="32" fill="#00ff00"/>
<rect x="1200" y="509" width="1" height="9" fill="#ff0000"/>
<rect x="1199" y="512" width="3" height="5" fill="#ff0000"/>
<rect x="1204" y="510" width="1" height="12" fill="#00ff00"/>
<rect x="1203" y="513" width="3" height="4" fill="#00ff00"/>
<rect x="1208" y="509" width="1" height="14" fill="#ff0000"/>
<rect x="1207" y="509" width="3" height="10" fill="#ff0000"/>
<rect x="1212" y="505" width="1" height="13" fill="#ff0000"/>
<rect x="1211" y="509" width="3" height="2" fill="#ff0000"/>
<rect x="1216" y="474" width="1" height="36" fill="#ff0000"/>
<rect x="1215" y="479" width="3" height="30" fill="#ff0000"/>
<rect x="1220" y="478" width="1" height="21" fill="#00ff00"/>
<rect x="1219" y="479" width="3" height="15" fill="#00ff00"/>
<rect x="1224" y="492" width="1" height="7" fill="#00ff00"/>
<rect x="1223" y="493" width="3" height="5" fill="#00ff00"/>
<rect x="1228" y="496" width="1" height="13" fill="#00ff00"/>
<rect x="1227" y="497" width="3" height="11" fill="#00ff00"/>
<rect x="1232" y="491" width="1" height="28" fill="#00ff00"/>
<rect x="1231" y="505" width="3" height="12" fill="#00ff00"/>
<rect x="1236" y="509" width="1" height="20" fill="#ff0000"/>
<rect x="1235" y="511" width="3" height="6" fill="#ff0000"/>
<rect x="1240" y="499" width="1" height="20" fill="#ff0000"/>
<rect x="1239" y="510" width="3" height="2" fill="#ff0000"/>
<rect x="1244" y="509" width="1" height="11" fill="#ff0000"/>
<rect x="1243" y="509" width="3" height="3" fill="#ff0000"/>
<rect x="1248" y="505" width="1" height="6" fill="#00ff00"/>
<rect x="1247" y="507" width="3" height="2" fill="#00ff00"/>
<rect x="1252" y="486" width="1" height="25" fill="#ff0000"/>
<rect x="1251" y="486" width="3" height="23" fill="#ff0000"/>
<rect x="1256" y="486" width="1" height="21" fill="#00ff00"/>
<rect x="1255" y="487" width="3" height="19" fill="#00ff00"/>
<rect x="1260" y="452" width="1" height="56" fill="#ff0000"/>
<rect x="1259" y="455" width="3" height="52" fill="#ff0000"/>
<rect x="1264" y="435" width="1" height="33" fill="#ff0000"/>
<rect x="1263" y="443" width="3" height="13" fill="#ff0000"/>
<rect x="1268" y="442" width="1" height="20" fill="#00ff00"/>
<rect x="1267" y="443" width="3" height="19" fill="#00ff00"/>
<polyline points="4.5,531.69 8.5,532.93 12.5,527.81 16.5,521.57 20.5,514.24 24.5,509.75 28.5,505.65 32.5,506.98 36.5,505.00 40.5,503.52 44.5,499.17 48.5,494.25 52.5,491.38 56.5,488.27 60.5,483.96 64.5,481.85 68.5,482.24 72.5,480.70 76.5,482.04 80.5,482.81 84.5,480.32 88.5,477.05 92.5,473.59 96.5,468.41 100.5,463.60 104.5,463.60 108.5,463.22 112.5,463.41 116.5,464.37 120.5,466.29 124.5,466.10 128.5,465.33 132.5,468.60 136.5,474.55 140.5,475.32 144.5,478.01 148.5,482.24 152.5,481.66 156.5,479.74 160.5,486.08 164.5,489.34 168.5,492.03 172.5,497.60 176.5,500.87 180.5,503.94 184.5,508.17 188.5,508.94 192.5,507.78 196.5,506.82 200.5,504.13 204.5,501.83 208.5,504.90 212.5,509.90 216.5,516.62 220.5,522.57 224.5,534.68 228.5,542.36 232.5,549.08 236.5,553.69 240.5,557.73 244.5,557.34 248.5,554.84 252.5,551.00 256.5,544.47 260.5,541.21 264.5,536.02 268.5,535.06 272.5,533.14 276.5,536.02 280.5,536.40 284.5,536.21 288.5,535.06 292.5,536.21 296.5,535.25 300.5,530.26 304.5,525.46 308.5,521.23 312.5,515.47 316.5,508.31 320.5,504.04 324.5,500.16 328.5,494.73 332.5,489.88 336.5,486.62 340.5,482.01 344.5,477.40 348.5,473.37 352.5,469.14 356.5,464.91 360.5,462.80 364.5,460.69 368.5,460.88 372.5,462.80 376.5,466.26 380.5,468.18 384.5,472.40 388.5,475.67 392.5,476.44 396.5,477.40 400.5,479.70 404.5,481.24 408.5,482.78 412.5,481.43 416.5,478.17 420.5,474.13 424.5,466.07 428.5,453.20 432.5,445.90 436.5,439.75 440.5,437.64 444.5,435.33 448.5,436.48 452.5,435.33 456.5,434.18 460.5,422.88 464.5,400.10 468.5,379.62 472.5,352.23 476.5,317.16 480.5,293.20 484.5,281.29 488.5,254.41 492.5,214.87 496.5,186.66 500.5,160.00 504.5,132.36 508.5,111.63 512.5,115.08 516.5,122.76 520.5,142.19 524.5,163.73 528.5,199.49 532.5,217.57 536.5,230.28 540.5,219.52 544.5,215.87 548.5,204.35 552.5,205.12 556.5,205.12 560.5,220.29 564.5,227.40 568.5,236.62 572.5,248.14 576.5,258.13 580.5,259.29 584.5,266.39 588.5,258.90 592.5,248.34 596.5,244.11 600.5,239.88 604.5,229.70 608.5,224.13 612.5,226.25 616.5,226.25 620.5,220.68 624.5,217.99 628.5,227.59 632.5,234.70 636.5,240.27 640.5,252.56 644.5,253.14 648.5,251.03 652.5,245.46 656.5,237.96 660.5,223.94 664.5,232.01 668.5,242.01 672.5,251.05 676.5,252.98 680.5,260.87 684.5,253.58 688.5,243.02 692.5,233.41 696.5,228.42 700.5,231.11 704.5,243.98 708.5,254.35 712.5,262.99 716.5,268.18 720.5,266.26 724.5,260.50 728.5,265.88 732.5,275.78 736.5,291.44 740.5,302.69 744.5,314.51 748.5,328.04 752.5,344.37 756.5,360.89 760.5,378.76 764.5,399.69 768.5,409.68 772.5,417.75 776.5,421.01 780.5,428.70 784.5,420.44 788.5,410.83 792.5,396.62 796.5,385.86 800.5,373.95 804.5,372.61 808.5,372.61 812.5,373.38 816.5,373.76 820.5,376.26 824.5,381.06 828.5,380.29 832.5,377.03 836.5,371.65 840.5,363.96 844.5,353.02 848.5,353.02 852.5,359.78 856.5,365.98 860.5,372.55 864.5,379.70 868.5,383.21 872.5,380.52 876.5,383.98 880.5,382.82 884.5,381.48 888.5,378.98 892.5,380.90 896.5,376.68 900.5,380.33 904.5,383.40 908.5,384.17 912.5,383.02 916.5,387.43 920.5,392.24 924.5,400.30 928.5,412.60 932.5,421.82 936.5,428.16 940.5,431.61 944.5,434.30 948.5,434.11 952.5,432.96 956.5,435.07 960.5,435.26 964.5,432.57 968.5,432.96 972.5,444.29 976.5,450.63 980.5,449.67 984.5,451.21 988.5,452.17 992.5,449.86 996.5,452.34 1000.5,463.26 1004.5,470.92 1008.5,476.47 1012.5,481.83 1016.5,485.86 1020.5,488.36 1024.5,492.78 1028.5,496.04 1032.5,497.00 1036.5,494.31 1040.5,492.97 1044.5,495.08 1048.5,501.04 1052.5,506.03 1056.5,513.91 1060.5,523.70 1064.5,529.85 1068.5,532.35 1072.5,530.23 1076.5,530.04 1080.5,529.08 1084.5,526.39 1088.5,518.33 1092.5,516.21 1096.5,512.37 1100.5,504.30 1104.5,497.96 1108.5,499.50 1112.5,497.96 1116.5,497.00 1120.5,495.47 1124.5,496.62 1128.5,495.08 1132.5,487.78 1136.5,479.14 1140.5,469.15 1144.5,457.43 1148.5,444.37 1152.5,440.15 1156.5,437.07 1160.5,434.58 1164.5,437.65 1168.5,444.76 1172.5,448.98 1176.5,453.40 1180.5,461.85 1184.5,464.35 1188.5,464.93 1192.5,471.07 1196.5,481.83 1200.5,490.28 1204.5,499.88 1208.5,508.53 1212.5,513.14 1216.5,505.46 1220.5,501.81 1224.5,497.96 1228.5,497.58 1232.5,499.12 1236.5,505.65 1240.5,508.91 1244.5,511.22 1248.5,511.41 1252.5,505.26 1256.5,504.11 1260.5,492.97 1264.5,479.72 1268.5,470.50" fill="none" stroke="#ffa500" stroke-width="1"/>
<polyline points="4.5,515.37 8.5,517.54 12.5,517.55 16.5,518.65 20.5,519.63 24.5,519.52 28.5,519.40 32.5,518.81 36.5,517.07 40.5,515.49 44.5,512.91 48.5,510.12 52.5,506.55 56.5,502.15 60.5,498.44 64.5,494.67 68.5,493.85 72.5,491.96 76.5,490.65 80.5,488.82 84.5,485.62 88.5,483.16 92.5,480.74 96.5,478.11 100.5,476.12 104.5,474.68 108.5,473.10 112.5,471.86 116.5,471.11 120.5,470.56 124.5,468.91 128.5,467.61 132.5,467.06 136.5,468.16 140.5,468.78 144.5,469.26 148.5,470.70 152.5,471.79 156.5,473.92 160.5,476.80 164.5,478.59 168.5,480.92 172.5,483.66 176.5,486.27 180.5,490.32 184.5,493.88 188.5,495.33 192.5,495.53 196.5,497.52 200.5,499.65 204.5,500.88 208.5,503.63 212.5,506.30 216.5,508.43 220.5,511.52 224.5,516.11 228.5,519.61 232.5,523.52 236.5,526.20 240.5,529.21 244.5,533.40 248.5,536.42 252.5,539.30 256.5,540.60 260.5,543.28 264.5,544.51 268.5,545.40 272.5,545.20 276.5,545.40 280.5,543.90 284.5,542.32 288.5,540.40 292.5,538.96 296.5,537.38 300.5,534.22 304.5,531.82 308.5,529.76 312.5,528.60 316.5,525.63 320.5,522.80 324.5,519.36 328.5,516.05 332.5,512.12 336.5,507.85 340.5,503.44 344.5,498.76 348.5,493.60 352.5,488.51 356.5,484.51 360.5,481.07 364.5,477.14 368.5,474.11 372.5,472.25 376.5,471.02 380.5,469.65 384.5,469.17 388.5,469.03 392.5,468.62 396.5,469.37 400.5,470.47 404.5,471.98 408.5,473.90 412.5,474.52 416.5,474.86 420.5,475.27 424.5,473.83 428.5,470.47 432.5,467.25 436.5,464.71 440.5,462.86 444.5,459.43 448.5,456.20 452.5,452.22 456.5,448.45 460.5,442.01 464.5,429.90 468.5,419.84 472.5,407.25 476.5,392.39 480.5,380.27 484.5,368.50 488.5,351.45 492.5,326.93 496.5,302.75 500.5,281.94 504.5,259.89 508.5,235.85 512.5,212.97 516.5,195.57 520.5,189.83 524.5,182.78 528.5,181.29 532.5,177.40 536.5,173.10 540.5,167.77 544.5,169.02 548.5,177.53 552.5,183.99 556.5,189.21 560.5,199.17 564.5,210.36 568.5,220.94 572.5,228.77 576.5,230.62 580.5,233.30 584.5,234.26 588.5,235.70 592.5,235.22 596.5,239.40 600.5,241.87 604.5,243.31 608.5,242.49 612.5,242.77 616.5,241.53 620.5,239.47 624.5,236.66 628.5,235.15 632.5,234.40 636.5,234.74 640.5,234.53 644.5,234.60 648.5,236.11 652.5,234.88 656.5,234.05 660.5,232.48 664.5,237.42 668.5,241.74 672.5,243.73 676.5,245.59 680.5,247.79 684.5,246.70 688.5,244.71 692.5,241.29 696.5,236.97 700.5,239.92 704.5,244.18 708.5,247.89 712.5,250.22 716.5,252.77 720.5,252.15 724.5,250.78 728.5,253.19 732.5,258.37 736.5,263.69 740.5,269.69 744.5,276.31 748.5,286.98 752.5,299.78 756.5,310.04 760.5,317.83 764.5,328.22 768.5,339.37 772.5,353.20 776.5,365.31 780.5,377.90 784.5,383.42 788.5,387.60 792.5,390.76 796.5,395.01 800.5,399.13 804.5,399.34 808.5,397.69 812.5,395.22 816.5,393.23 820.5,390.76 824.5,389.11 828.5,384.31 832.5,379.51 836.5,372.86 840.5,370.59 844.5,368.46 848.5,368.74 852.5,370.20 856.5,370.01 860.5,370.57 864.5,371.00 868.5,372.25 872.5,372.61 876.5,372.76 880.5,371.20 884.5,371.42 888.5,372.95 892.5,375.91 896.5,377.30 900.5,380.96 904.5,382.27 908.5,381.66 912.5,382.00 916.5,382.62 920.5,385.43 924.5,388.38 928.5,393.11 932.5,395.52 936.5,398.81 940.5,403.34 944.5,408.14 948.5,412.12 952.5,415.62 956.5,418.36 960.5,421.86 964.5,425.43 968.5,429.95 972.5,435.92 976.5,439.21 980.5,439.49 984.5,439.21 988.5,440.79 992.5,443.67 996.5,446.62 1000.5,449.83 1004.5,452.36 1008.5,456.33 1012.5,460.37 1016.5,464.69 1020.5,469.76 1024.5,473.73 1028.5,474.82 1032.5,476.93 1036.5,480.63 1040.5,484.67 1044.5,489.05 1048.5,493.09 1052.5,496.11 1056.5,498.72 1060.5,503.52 1064.5,508.12 1068.5,511.14 1072.5,511.96 1076.5,513.61 1080.5,516.49 1084.5,518.96 1088.5,518.75 1092.5,519.78 1096.5,520.53 1100.5,519.78 1104.5,517.86 1108.5,516.42 1112.5,514.09 1116.5,511.00 1120.5,507.50 1124.5,505.10 1128.5,503.86 1132.5,498.99 1136.5,493.16 1140.5,487.06 1144.5,483.35 1148.5,478.21 1152.5,473.20 1156.5,469.15 1160.5,464.42 1164.5,461.26 1168.5,459.20 1172.5,456.05 1176.5,454.13 1180.5,452.00 1184.5,450.29 1188.5,451.04 1192.5,453.17 1196.5,458.65 1200.5,463.73 1204.5,470.11 1208.5,475.46 1212.5,480.33 1216.5,483.97 1220.5,486.64 1224.5,489.11 1228.5,492.82 1232.5,496.66 1236.5,499.61 1240.5,502.56 1244.5,505.65 1248.5,507.23 1252.5,505.03 1256.5,504.55 1260.5,500.09 1264.5,495.36 1268.5,492.00" fill="none" stroke="#ff0000" stroke-width="1"/>
<polyline points="4.5,490.03 8.5,491.86 12.5,492.63 16.5,493.77 20.5,494.84 24.5,495.86 28.5,496.94 32.5,497.86 36.5,498.93 40.5,500.31 44.5,501.24 48.5,502.05 52.5,503.03 56.5,503.74 60.5,504.25 64.5,504.59 68.5,505.15 72.5,504.59 76.5,504.34 80.5,504.00 84.5,502.98 88.5,501.63 92.5,500.12 96.5,498.50 100.5,496.37 104.5,494.40 108.5,492.56 112.5,490.65 116.5,488.28 120.5,485.74 124.5,483.47 128.5,481.29 132.5,480.78 136.5,480.44 140.5,479.25 144.5,478.18 148.5,477.39 152.5,476.56 156.5,476.23 160.5,476.35 164.5,476.54 168.5,477.02 172.5,477.59 176.5,478.33 180.5,479.67 184.5,480.92 188.5,481.47 192.5,482.11 196.5,482.46 200.5,483.23 204.5,484.51 208.5,486.11 212.5,488.16 216.5,490.50 220.5,493.06 224.5,496.35 228.5,499.30 232.5,502.44 236.5,505.38 240.5,508.30 244.5,511.56 248.5,514.22 252.5,516.17 256.5,517.04 260.5,519.28 264.5,521.23 268.5,523.02 272.5,524.75 276.5,526.42 280.5,527.66 284.5,529.04 288.5,530.19 292.5,531.19 296.5,532.15 300.5,532.05 304.5,531.92 308.5,532.24 312.5,532.47 316.5,532.39 320.5,532.04 324.5,531.64 328.5,530.55 332.5,529.13 336.5,527.39 340.5,525.27 344.5,522.10 348.5,519.05 352.5,515.81 356.5,512.60 360.5,509.45 364.5,505.99 368.5,503.39 372.5,501.11 376.5,499.56 380.5,497.28 384.5,495.39 388.5,493.49 392.5,491.66 396.5,489.79 400.5,487.83 404.5,486.22 408.5,484.78 412.5,482.53 416.5,480.28 420.5,478.48 424.5,476.33 428.5,473.44 432.5,470.93 436.5,468.85 440.5,467.41 444.5,465.52 448.5,463.73 452.5,461.84 456.5,460.11 460.5,457.56 464.5,452.64 468.5,448.11 472.5,442.36 476.5,435.49 480.5,429.29 484.5,422.74 488.5,413.69 492.5,401.03 496.5,388.89 500.5,377.92 504.5,366.06 508.5,353.02 512.5,340.81 516.5,329.78 520.5,321.67 524.5,313.15 528.5,305.81 532.5,296.83 536.5,288.47 540.5,279.24 544.5,271.45 548.5,264.33 552.5,256.70 556.5,249.36 560.5,243.01 564.5,236.79 568.5,231.02 572.5,225.50 576.5,220.02 580.5,215.75 584.5,214.51 588.5,210.90 592.5,208.19 596.5,207.84 600.5,206.86 604.5,205.91 608.5,205.85 612.5,210.08 616.5,214.44 620.5,216.98 624.5,220.18 628.5,225.18 632.5,230.02 636.5,234.03 640.5,235.37 644.5,235.08 648.5,233.77 652.5,234.67 656.5,235.31 660.5,236.11 664.5,237.77 668.5,240.05 672.5,242.32 676.5,243.28 680.5,242.87 684.5,242.14 688.5,241.11 692.5,239.87 696.5,238.33 700.5,238.17 704.5,238.40 708.5,240.35 712.5,242.31 716.5,242.34 720.5,242.57 724.5,243.53 728.5,247.31 732.5,250.56 736.5,253.21 740.5,256.24 744.5,259.62 748.5,264.05 752.5,268.84 756.5,273.31 760.5,277.27 764.5,284.04 768.5,290.50 772.5,297.56 776.5,303.82 780.5,311.40 784.5,315.45 788.5,318.63 792.5,321.82 796.5,325.97 800.5,330.24 804.5,335.29 808.5,340.23 812.5,345.15 816.5,350.19 820.5,354.43 824.5,358.13 828.5,361.22 832.5,364.15 836.5,367.44 840.5,370.72 844.5,373.55 848.5,375.75 852.5,378.15 856.5,379.86 860.5,382.36 864.5,384.42 868.5,384.94 872.5,384.18 876.5,383.71 880.5,383.04 884.5,381.38 888.5,379.82 892.5,378.04 896.5,376.32 900.5,374.98 904.5,375.21 908.5,375.38 912.5,375.77 916.5,376.58 920.5,378.03 924.5,379.83 928.5,382.04 932.5,383.84 936.5,385.64 940.5,387.25 944.5,388.70 948.5,391.01 952.5,393.17 956.5,396.22 960.5,399.14 964.5,401.96 968.5,404.34 972.5,407.25 976.5,410.32 980.5,411.99 984.5,413.88 988.5,415.83 992.5,418.81 996.5,421.72 1000.5,425.40 1004.5,428.79 1008.5,432.08 1012.5,435.63 1016.5,439.91 1020.5,443.40 1024.5,447.01 1028.5,450.72 1032.5,454.63 1036.5,457.73 1040.5,460.19 1044.5,462.81 1048.5,465.46 1052.5,468.66 1056.5,472.02 1060.5,475.54 1064.5,478.74 1068.5,481.84 1072.5,484.88 1076.5,487.85 1080.5,491.17 1084.5,494.37 1088.5,496.07 1092.5,496.86 1096.5,498.14 1100.5,500.28 1104.5,502.17 1108.5,503.95 1112.5,504.88 1116.5,505.58 1120.5,505.65 1124.5,506.45 1128.5,507.06 1132.5,505.87 1136.5,504.46 1140.5,502.45 1144.5,500.56 1148.5,498.44 1152.5,496.40 1156.5,494.92 1160.5,492.71 1164.5,490.98 1168.5,489.06 1172.5,486.89 1176.5,484.84 1180.5,482.40 1184.5,480.07 1188.5,477.83 1192.5,477.03 1196.5,476.80 1200.5,475.94 1204.5,475.65 1208.5,476.19 1212.5,476.51 1216.5,475.65 1220.5,475.52 1224.5,475.65 1228.5,475.87 1232.5,476.71 1236.5,477.09 1240.5,477.76 1244.5,478.08 1248.5,478.60 1252.5,479.62 1256.5,481.25 1260.5,481.73 1264.5,481.80 1268.5,482.95" fill="none" stroke="#0000cd" stroke-width="1"/>
<rect x="4" y="382" width="1592" height="2" fill="#ff0000"/>
<rect x="4" y="424" width="1592" height="2" fill="#ff0000"/>
<rect x="4" y="460" width="1592" height="2" fill="#00ff00"/>
<rect x="4" y="508" width="1592" height="2" fill="#0000ff"/>
<rect x="4" y="546" width="1592" height="2" fill="#0000ff"/>
</g>
<path d="M1271.5 25 L1281.5 25 L1276.5 30.5 Z" fill="#c0c0c0"/>
<path d="M7 31 L14 31 L10.5 35 Z" fill="#000"/>
<text x="19.00" y="36.00" font-size="10" fill="#000" color="#000" textLength="66.00" lengthAdjust="spacingAndGlyphs">USDCAD,Daily</text>
<text x="91.00" y="36.00" font-size="10" fill="#000" color="#000" textLength="140.50" lengthAdjust="spacingAndGlyphs">1.33633 1.33664 1.32999 1.33004</text>
<g shape-rendering="crispEdges">
<rect x="1597" y="49" width="3" height="1" fill="#000"/>
<text x="1602.00" y="52.50" font-size="9.5" fill="#000" color="#000" textLength="32.50" lengthAdjust="spacingAndGlyphs">1.46740</text>
<rect x="1597" y="82" width="3" height="1" fill="#000"/>
<text x="1602.00" y="85.50" font-size="9.5" fill="#000" color="#000" textLength="32.50" lengthAdjust="spacingAndGlyphs">1.45660</text>
<rect x="1597" y="115" width="3" height="1" fill="#000"/>
<text x="1602.00" y="118.50" font-size="9.5" fill="#000" color="#000" textLength="32.50" lengthAdjust="spacingAndGlyphs">1.44550</text>
<rect x="1597" y="148" width="3" height="1" fill="#000"/>
<text x="1602.00" y="151.50" font-size="9.5" fill="#000" color="#000" textLength="32.50" lengthAdjust="spacingAndGlyphs">1.43440</text>
<rect x="1597" y="181" width="3" height="1" fill="#000"/>
<text x="1602.00" y="184.50" font-size="9.5" fill="#000" color="#000" textLength="32.50" lengthAdjust="spacingAndGlyphs">1.42360</text>
<rect x="1597" y="214" width="3" height="1" fill="#000"/>
<text x="1602.00" y="217.50" font-size="9.5" fill="#000" color="#000" textLength="32.50" lengthAdjust="spacingAndGlyphs">1.41250</text>
<rect x="1597" y="247" width="3" height="1" fill="#000"/>
<text x="1602.00" y="250.50" font-size="9.5" fill="#000" color="#000" textLength="32.50" lengthAdjust="spacingAndGlyphs">1.40140</text>
<rect x="1597" y="280" width="3" height="1" fill="#000"/>
<text x="1602.00" y="283.50" font-size="9.5" fill="#000" color="#000" textLength="32.50" lengthAdjust="spacingAndGlyphs">1.39060</text>
<rect x="1597" y="313" width="3" height="1" fill="#000"/>
<text x="1602.00" y="316.50" font-size="9.5" fill="#000" color="#000" textLength="32.50" lengthAdjust="spacingAndGlyphs">1.37950</text>
<rect x="1597" y="346" width="3" height="1" fill="#000"/>
<text x="1602.00" y="349.50" font-size="9.5" fill="#000" color="#000" textLength="32.50" lengthAdjust="spacingAndGlyphs">1.36840</text>
<rect x="1597" y="379" width="3" height="1" fill="#000"/>
<text x="1602.00" y="382.50" font-size="9.5" fill="#000" color="#000" textLength="32.50" lengthAdjust="spacingAndGlyphs">1.35740</text>
<rect x="1597" y="412" width="3" height="1" fill="#000"/>
<text x="1602.00" y="415.50" font-size="9.5" fill="#000" color="#000" textLength="32.50" lengthAdjust="spacingAndGlyphs">1.34650</text>
<rect x="1597" y="445" width="3" height="1" fill="#000"/>
<text x="1602.00" y="448.50" font-size="9.5" fill="#000" color="#000" textLength="32.50" lengthAdjust="spacingAndGlyphs">1.33540</text>
<rect x="1597" y="478" width="3" height="1" fill="#000"/>
<text x="1602.00" y="481.50" font-size="9.5" fill="#000" color="#000" textLength="32.50" lengthAdjust="spacingAndGlyphs">1.32460</text>
<rect x="1597" y="511" width="3" height="1" fill="#000"/>
<text x="1602.00" y="514.50" font-size="9.5" fill="#000" color="#000" textLength="32.50" lengthAdjust="spacingAndGlyphs">1.31350</text>
<rect x="1597" y="544" width="3" height="1" fill="#000"/>
<text x="1602.00" y="547.50" font-size="9.5" fill="#000" color="#000" textLength="32.50" lengthAdjust="spacingAndGlyphs">1.30250</text>
<rect x="1597" y="577" width="3" height="1" fill="#000"/>
<text x="1602.00" y="580.50" font-size="9.5" fill="#000" color="#000" textLength="32.50" lengthAdjust="spacingAndGlyphs">1.29160</text>
<rect x="1598" y="377" width="40" height="11" fill="#ff0000"/>
<text x="1602.00" y="386.00" font-size="9.5" fill="#fff" color="#fff" textLength="32.50" lengthAdjust="spacingAndGlyphs">1.35606</text>
<rect x="1598" y="419" width="40" height="11" fill="#ff0000"/>
<text x="1602.00" y="428.00" font-size="9.5" fill="#fff" color="#fff" textLength="32.50" lengthAdjust="spacingAndGlyphs">1.34206</text>
<rect x="1598" y="455" width="40" height="11" fill="#00ff00"/>
<text x="1602.00" y="464.00" font-size="9.5" fill="#fff" color="#fff" textLength="32.50" lengthAdjust="spacingAndGlyphs">1.33011</text>
<rect x="1598" y="503" width="40" height="11" fill="#0000ff"/>
<text x="1602.00" y="512.00" font-size="9.5" fill="#fff" color="#fff" textLength="32.50" lengthAdjust="spacingAndGlyphs">1.31405</text>
<rect x="1598" y="541" width="40" height="11" fill="#0000ff"/>
<text x="1602.00" y="550.00" font-size="9.5" fill="#fff" color="#fff" textLength="32.50" lengthAdjust="spacingAndGlyphs">1.30152</text>
<rect x="1598" y="466" width="40" height="1" fill="#000"/>
</g>
<g shape-rendering="crispEdges">
<rect x="3.5" y="582.5" width="1593" height="102" fill="none" stroke="#000" stroke-width="1"/>
<line x1="5" y1="613.5" x2="1596" y2="613.5" stroke="#c0c0c0" stroke-dasharray="3,3"/>
<line x1="5" y1="653.5" x2="1596" y2="653.5" stroke="#c0c0c0" stroke-dasharray="3,3"/>
</g>
<g clip-path="url(#cr)" shape-rendering="crispEdges">
<polyline points="4.5,654.34 8.5,652.39 12.5,629.67 16.5,635.51 20.5,635.29 24.5,635.56 28.5,635.56 32.5,632.62 36.5,629.21 40.5,630.69 44.5,622.91 48.5,621.50 52.5,625.85 56.5,622.35 60.5,620.47 64.5,619.08 68.5,626.60 72.5,624.50 76.5,630.01 80.5,626.18 84.5,617.52 88.5,621.50 92.5,619.51 96.5,619.11 100.5,617.09 104.5,620.84 108.5,623.74 112.5,622.74 116.5,625.04 120.5,625.04 124.5,621.62 128.5,622.51 132.5,636.26 136.5,644.66 140.5,630.16 144.5,632.07 148.5,636.17 152.5,633.27 156.5,637.71 160.5,643.75 164.5,637.84 168.5,640.09 172.5,643.28 176.5,642.23 180.5,647.28 184.5,644.02 188.5,638.02 192.5,637.54 196.5,637.03 200.5,639.65 204.5,637.42 208.5,644.01 212.5,647.15 216.5,649.72 220.5,650.35 224.5,657.59 228.5,653.39 232.5,654.38 236.5,652.50 240.5,651.85 244.5,653.34 248.5,642.30 252.5,640.67 256.5,632.41 260.5,638.82 264.5,636.54 268.5,638.12 272.5,634.35 276.5,637.69 280.5,638.91 284.5,634.89 288.5,634.40 292.5,636.32 296.5,634.67 300.5,626.05 304.5,623.23 308.5,624.41 312.5,622.73 316.5,618.72 320.5,617.62 324.5,615.80 328.5,613.72 332.5,613.37 336.5,612.65 340.5,609.29 344.5,607.78 348.5,606.90 352.5,606.30 356.5,605.69 360.5,606.76 364.5,605.10 368.5,614.39 372.5,620.63 376.5,625.45 380.5,621.69 384.5,627.03 388.5,629.88 392.5,626.32 396.5,631.25 400.5,631.25 404.5,633.40 408.5,636.19 412.5,623.36 416.5,621.92 420.5,620.01 424.5,612.93 428.5,607.12 432.5,612.71 436.5,614.75 440.5,624.98 444.5,618.56 448.5,617.66 452.5,616.44 456.5,618.28 460.5,609.04 464.5,599.08 468.5,602.85 472.5,599.33 476.5,596.88 480.5,604.43 484.5,603.05 488.5,598.45 492.5,594.20 496.5,599.35 500.5,605.92 504.5,604.64 508.5,602.77 512.5,607.05 516.5,615.57 520.5,629.08 524.5,628.01 528.5,633.10 532.5,625.64 536.5,627.61 540.5,624.62 544.5,628.07 548.5,628.07 552.5,627.18 556.5,628.92 560.5,635.32 564.5,633.32 568.5,634.78 572.5,635.32 576.5,635.90 580.5,636.21 584.5,638.68 588.5,628.23 592.5,626.60 596.5,632.62 600.5,632.93 604.5,630.56 608.5,624.72 612.5,629.55 616.5,633.63 620.5,629.64 624.5,629.64 628.5,633.50 632.5,635.88 636.5,638.65 640.5,639.86 644.5,629.44 648.5,630.96 652.5,630.47 656.5,631.95 660.5,627.57 664.5,636.81 668.5,639.56 672.5,638.08 676.5,632.96 680.5,633.81 684.5,629.56 688.5,629.94 692.5,629.41 696.5,628.47 700.5,637.36 704.5,641.86 708.5,639.50 712.5,636.97 716.5,632.39 720.5,633.95 724.5,635.52 728.5,643.54 732.5,645.22 736.5,646.25 740.5,642.52 744.5,644.32 748.5,651.90 752.5,654.68 756.5,655.49 760.5,653.32 764.5,656.24 768.5,655.95 772.5,657.66 776.5,652.63 780.5,654.46 784.5,640.54 788.5,638.87 792.5,637.17 796.5,637.36 800.5,639.09 804.5,638.84 808.5,638.57 812.5,637.43 816.5,637.13 820.5,641.97 824.5,644.39 828.5,635.34 832.5,631.03 836.5,628.19 840.5,630.42 844.5,628.91 848.5,636.13 852.5,640.28 856.5,636.12 860.5,638.44 864.5,637.57 868.5,639.53 872.5,635.27 876.5,639.56 880.5,635.38 884.5,634.22 888.5,634.80 892.5,637.41 896.5,632.59 900.5,639.97 904.5,637.73 908.5,634.61 912.5,634.30 916.5,638.40 920.5,645.46 924.5,647.54 928.5,649.92 932.5,643.72 936.5,643.36 940.5,646.57 944.5,647.88 948.5,646.65 952.5,638.34 956.5,642.48 960.5,643.47 964.5,640.10 968.5,643.52 972.5,650.94 976.5,647.22 980.5,636.52 984.5,637.48 988.5,639.88 992.5,643.88 996.5,646.87 1000.5,648.76 1004.5,644.27 1008.5,643.92 1012.5,647.57 1016.5,649.17 1020.5,649.58 1024.5,648.31 1028.5,645.33 1032.5,646.61 1036.5,641.87 1040.5,644.40 1044.5,648.24 1048.5,651.19 1052.5,651.19 1056.5,652.13 1060.5,656.17 1064.5,654.06 1068.5,650.90 1072.5,639.99 1076.5,643.93 1080.5,647.67 1084.5,642.37 1088.5,631.23 1092.5,633.30 1096.5,634.78 1100.5,632.55 1104.5,631.28 1108.5,633.67 1112.5,630.62 1116.5,633.48 1120.5,630.02 1124.5,633.66 1128.5,631.17 1132.5,620.19 1136.5,620.58 1140.5,616.72 1144.5,617.15 1148.5,614.12 1152.5,617.26 1156.5,620.34 1160.5,616.92 1164.5,628.46 1168.5,630.75 1172.5,628.40 1176.5,631.15 1180.5,633.49 1184.5,633.14 1188.5,632.05 1192.5,639.25 1196.5,647.49 1200.5,645.51 1204.5,646.71 1208.5,643.38 1212.5,643.38 1216.5,631.59 1220.5,636.48 1224.5,637.64 1228.5,640.50 1232.5,643.20 1236.5,640.83 1240.5,640.42 1244.5,639.99 1248.5,639.53 1252.5,630.16 1256.5,637.26 1260.5,622.22 1264.5,619.74 1268.5,626.19" fill="none" stroke="#1e90ff" stroke-width="1"/>
</g>
<text x="8.40" y="595.00" font-size="9.5" fill="#000" color="#000" textLength="67.80" lengthAdjust="spacingAndGlyphs">RSI(14) 57.1049</text>
<text x="1600.00" y="592.50" font-size="9.5" fill="#000" color="#000">100</text>
<rect x="1597" y="613" width="3" height="1" fill="#000"/>
<text x="1600.00" y="616.50" font-size="9.5" fill="#000" color="#000">70</text>
<rect x="1597" y="653" width="3" height="1" fill="#000"/>
<text x="1600.00" y="656.50" font-size="9.5" fill="#000" color="#000">30</text>
<text x="1600.00" y="680.50" font-size="9.5" fill="#000" color="#000">0</text>
<g shape-rendering="crispEdges">
<rect x="3.5" y="686.5" width="1593" height="101" fill="none" stroke="#000" stroke-width="1"/>
</g>
<g clip-path="url(#cd)" shape-rendering="crispEdges">
<rect x="4" y="751.8" width="1" height="10.8" fill="#c0c0c0"/>
<rect x="8" y="751.8" width="1" height="10.5" fill="#c0c0c0"/>
<rect x="12" y="751.8" width="1" height="8.5" fill="#c0c0c0"/>
<rect x="16" y="751.8" width="1" height="7.4" fill="#c0c0c0"/>
<rect x="20" y="751.8" width="1" height="6.5" fill="#c0c0c0"/>
<rect x="24" y="751.8" width="1" height="5.7" fill="#c0c0c0"/>
<rect x="28" y="751.8" width="1" height="5.0" fill="#c0c0c0"/>
<rect x="32" y="751.8" width="1" height="4.1" fill="#c0c0c0"/>
<rect x="36" y="751.8" width="1" height="3.2" fill="#c0c0c0"/>
<rect x="40" y="751.8" width="1" height="2.5" fill="#c0c0c0"/>
<rect x="44" y="751.8" width="1" height="1.2" fill="#c0c0c0"/>
<rect x="48" y="751.8" width="1" height="0.5" fill="#c0c0c0"/>
<rect x="52" y="751.2" width="1" height="0.6" fill="#c0c0c0"/>
<rect x="56" y="750.4" width="1" height="1.4" fill="#c0c0c0"/>
<rect x="60" y="749.6" width="1" height="2.2" fill="#c0c0c0"/>
<rect x="64" y="748.8" width="1" height="3.0" fill="#c0c0c0"/>
<rect x="68" y="748.7" width="1" height="3.1" fill="#c0c0c0"/>
<rect x="72" y="748.5" width="1" height="3.3" fill="#c0c0c0"/>
<rect x="76" y="748.8" width="1" height="3.1" fill="#c0c0c0"/>
<rect x="80" y="748.7" width="1" height="3.2" fill="#c0c0c0"/>
<rect x="84" y="747.6" width="1" height="4.2" fill="#c0c0c0"/>
<rect x="88" y="747.2" width="1" height="4.7" fill="#c0c0c0"/>
<rect x="92" y="746.6" width="1" height="5.2" fill="#c0c0c0"/>
<rect x="96" y="746.2" width="1" height="5.7" fill="#c0c0c0"/>
<rect x="100" y="745.7" width="1" height="6.2" fill="#c0c0c0"/>
<rect x="104" y="745.6" width="1" height="6.3" fill="#c0c0c0"/>
<rect x="108" y="745.8" width="1" height="6.1" fill="#c0c0c0"/>
<rect x="112" y="745.9" width="1" height="5.9" fill="#c0c0c0"/>
<rect x="116" y="746.2" width="1" height="5.6" fill="#c0c0c0"/>
<rect x="120" y="746.5" width="1" height="5.3" fill="#c0c0c0"/>
<rect x="124" y="746.5" width="1" height="5.3" fill="#c0c0c0"/>
<rect x="128" y="746.6" width="1" height="5.2" fill="#c0c0c0"/>
<rect x="132" y="747.7" width="1" height="4.1" fill="#c0c0c0"/>
<rect x="136" y="749.5" width="1" height="2.4" fill="#c0c0c0"/>
<rect x="140" y="749.5" width="1" height="2.3" fill="#c0c0c0"/>
<rect x="144" y="749.8" width="1" height="2.0" fill="#c0c0c0"/>
<rect x="148" y="750.5" width="1" height="1.4" fill="#c0c0c0"/>
<rect x="152" y="750.7" width="1" height="1.1" fill="#c0c0c0"/>
<rect x="156" y="751.4" width="1" height="0.5" fill="#c0c0c0"/>
<rect x="160" y="751.8" width="1" height="0.9" fill="#c0c0c0"/>
<rect x="164" y="751.8" width="1" height="1.4" fill="#c0c0c0"/>
<rect x="168" y="751.8" width="1" height="2.0" fill="#c0c0c0"/>
<rect x="172" y="751.8" width="1" height="2.9" fill="#c0c0c0"/>
<rect x="176" y="751.8" width="1" height="3.5" fill="#c0c0c0"/>
<rect x="180" y="751.8" width="1" height="4.7" fill="#c0c0c0"/>
<rect x="184" y="751.8" width="1" height="5.2" fill="#c0c0c0"/>
<rect x="188" y="751.8" width="1" height="5.0" fill="#c0c0c0"/>
<rect x="192" y="751.8" width="1" height="4.8" fill="#c0c0c0"/>
<rect x="196" y="751.8" width="1" height="4.4" fill="#c0c0c0"/>
<rect x="200" y="751.8" width="1" height="4.4" fill="#c0c0c0"/>
<rect x="204" y="751.8" width="1" height="4.2" fill="#c0c0c0"/>
<rect x="208" y="751.8" width="1" height="4.7" fill="#c0c0c0"/>
<rect x="212" y="751.8" width="1" height="5.5" fill="#c0c0c0"/>
<rect x="216" y="751.8" width="1" height="6.5" fill="#c0c0c0"/>
<rect x="220" y="751.8" width="1" height="7.3" fill="#c0c0c0"/>
<rect x="224" y="751.8" width="1" height="9.2" fill="#c0c0c0"/>
<rect x="228" y="751.8" width="1" height="10.3" fill="#c0c0c0"/>
<rect x="232" y="751.8" width="1" height="11.2" fill="#c0c0c0"/>
<rect x="236" y="751.8" width="1" height="11.6" fill="#c0c0c0"/>
<rect x="240" y="751.8" width="1" height="11.8" fill="#c0c0c0"/>
<rect x="244" y="751.8" width="1" height="12.0" fill="#c0c0c0"/>
<rect x="248" y="751.8" width="1" height="11.2" fill="#c0c0c0"/>
<rect x="252" y="751.8" width="1" height="10.2" fill="#c0c0c0"/>
<rect x="256" y="751.8" width="1" height="8.5" fill="#c0c0c0"/>
<rect x="260" y="751.8" width="1" height="7.9" fill="#c0c0c0"/>
<rect x="264" y="751.8" width="1" height="7.1" fill="#c0c0c0"/>
<rect x="268" y="751.8" width="1" height="6.5" fill="#c0c0c0"/>
<rect x="272" y="751.8" width="1" height="5.7" fill="#c0c0c0"/>
<rect x="276" y="751.8" width="1" height="5.3" fill="#c0c0c0"/>
<rect x="280" y="751.8" width="1" height="5.1" fill="#c0c0c0"/>
<rect x="284" y="751.8" width="1" height="4.5" fill="#c0c0c0"/>
<rect x="288" y="751.8" width="1" height="3.9" fill="#c0c0c0"/>
<rect x="292" y="751.8" width="1" height="3.6" fill="#c0c0c0"/>
<rect x="296" y="751.8" width="1" height="3.2" fill="#c0c0c0"/>
<rect x="300" y="751.8" width="1" height="1.9" fill="#c0c0c0"/>
<rect x="304" y="751.8" width="1" height="0.6" fill="#c0c0c0"/>
<rect x="308" y="751.4" width="1" height="0.5" fill="#c0c0c0"/>
<rect x="312" y="750.5" width="1" height="1.3" fill="#c0c0c0"/>
<rect x="316" y="749.3" width="1" height="2.6" fill="#c0c0c0"/>
<rect x="320" y="748.2" width="1" height="3.7" fill="#c0c0c0"/>
<rect x="324" y="747.1" width="1" height="4.7" fill="#c0c0c0"/>
<rect x="328" y="746.0" width="1" height="5.8" fill="#c0c0c0"/>
<rect x="332" y="745.2" width="1" height="6.6" fill="#c0c0c0"/>
<rect x="336" y="744.6" width="1" height="7.3" fill="#c0c0c0"/>
<rect x="340" y="743.6" width="1" height="8.2" fill="#c0c0c0"/>
<rect x="344" y="742.7" width="1" height="9.1" fill="#c0c0c0"/>
<rect x="348" y="742.0" width="1" height="9.8" fill="#c0c0c0"/>
<rect x="352" y="741.4" width="1" height="10.4" fill="#c0c0c0"/>
<rect x="356" y="741.0" width="1" height="10.8" fill="#c0c0c0"/>
<rect x="360" y="740.8" width="1" height="11.0" fill="#c0c0c0"/>
<rect x="364" y="740.6" width="1" height="11.2" fill="#c0c0c0"/>
<rect x="368" y="741.0" width="1" height="10.9" fill="#c0c0c0"/>
<rect x="372" y="741.7" width="1" height="10.1" fill="#c0c0c0"/>
<rect x="376" y="742.8" width="1" height="9.1" fill="#c0c0c0"/>
<rect x="380" y="743.3" width="1" height="8.5" fill="#c0c0c0"/>
<rect x="384" y="744.2" width="1" height="7.6" fill="#c0c0c0"/>
<rect x="388" y="745.2" width="1" height="6.7" fill="#c0c0c0"/>
<rect x="392" y="745.7" width="1" height="6.1" fill="#c0c0c0"/>
<rect x="396" y="746.5" width="1" height="5.3" fill="#c0c0c0"/>
<rect x="400" y="747.3" width="1" height="4.6" fill="#c0c0c0"/>
<rect x="404" y="748.0" width="1" height="3.8" fill="#c0c0c0"/>
<rect x="408" y="748.9" width="1" height="3.0" fill="#c0c0c0"/>
<rect x="412" y="748.5" width="1" height="3.3" fill="#c0c0c0"/>
<rect x="416" y="748.1" width="1" height="3.7" fill="#c0c0c0"/>
<rect x="420" y="747.7" width="1" height="4.2" fill="#c0c0c0"/>
<rect x="424" y="746.5" width="1" height="5.4" fill="#c0c0c0"/>
<rect x="428" y="744.6" width="1" height="7.3" fill="#c0c0c0"/>
<rect x="432" y="743.5" width="1" height="8.3" fill="#c0c0c0"/>
<rect x="436" y="743.0" width="1" height="8.9" fill="#c0c0c0"/>
<rect x="440" y="743.5" width="1" height="8.4" fill="#c0c0c0"/>
<rect x="444" y="743.0" width="1" height="8.8" fill="#c0c0c0"/>
<rect x="448" y="742.6" width="1" height="9.2" fill="#c0c0c0"/>
<rect x="452" y="742.2" width="1" height="9.6" fill="#c0c0c0"/>
<rect x="456" y="742.2" width="1" height="9.7" fill="#c0c0c0"/>
<rect x="460" y="740.5" width="1" height="11.4" fill="#c0c0c0"/>
<rect x="464" y="735.4" width="1" height="16.5" fill="#c0c0c0"/>
<rect x="468" y="732.0" width="1" height="19.8" fill="#c0c0c0"/>
<rect x="472" y="727.6" width="1" height="24.2" fill="#c0c0c0"/>
<rect x="476" y="722.6" width="1" height="29.2" fill="#c0c0c0"/>
<rect x="480" y="720.1" width="1" height="31.7" fill="#c0c0c0"/>
<rect x="484" y="717.8" width="1" height="34.1" fill="#c0c0c0"/>
<rect x="488" y="712.9" width="1" height="38.9" fill="#c0c0c0"/>
<rect x="492" y="704.3" width="1" height="47.6" fill="#c0c0c0"/>
<rect x="496" y="699.2" width="1" height="52.7" fill="#c0c0c0"/>
<rect x="500" y="697.2" width="1" height="54.6" fill="#c0c0c0"/>
<rect x="504" y="695.3" width="1" height="56.5" fill="#c0c0c0"/>
<rect x="508" y="692.8" width="1" height="59.0" fill="#c0c0c0"/>
<rect x="512" y="692.5" width="1" height="59.3" fill="#c0c0c0"/>
<rect x="516" y="695.1" width="1" height="56.7" fill="#c0c0c0"/>
<rect x="520" y="702.3" width="1" height="49.5" fill="#c0c0c0"/>
<rect x="524" y="708.0" width="1" height="43.8" fill="#c0c0c0"/>
<rect x="528" y="715.0" width="1" height="36.8" fill="#c0c0c0"/>
<rect x="532" y="717.4" width="1" height="34.4" fill="#c0c0c0"/>
<rect x="536" y="720.4" width="1" height="31.4" fill="#c0c0c0"/>
<rect x="540" y="721.6" width="1" height="30.2" fill="#c0c0c0"/>
<rect x="544" y="724.2" width="1" height="27.6" fill="#c0c0c0"/>
<rect x="548" y="726.6" width="1" height="25.3" fill="#c0c0c0"/>
<rect x="552" y="728.3" width="1" height="23.5" fill="#c0c0c0"/>
<rect x="556" y="730.6" width="1" height="21.3" fill="#c0c0c0"/>
<rect x="560" y="734.9" width="1" height="16.9" fill="#c0c0c0"/>
<rect x="564" y="737.8" width="1" height="14.1" fill="#c0c0c0"/>
<rect x="568" y="740.7" width="1" height="11.1" fill="#c0c0c0"/>
<rect x="572" y="743.4" width="1" height="8.5" fill="#c0c0c0"/>
<rect x="576" y="745.7" width="1" height="6.1" fill="#c0c0c0"/>
<rect x="580" y="747.7" width="1" height="4.1" fill="#c0c0c0"/>
<rect x="584" y="750.2" width="1" height="1.7" fill="#c0c0c0"/>
<rect x="588" y="748.9" width="1" height="3.0" fill="#c0c0c0"/>
<rect x="592" y="747.3" width="1" height="4.6" fill="#c0c0c0"/>
<rect x="596" y="747.9" width="1" height="3.9" fill="#c0c0c0"/>
<rect x="600" y="748.6" width="1" height="3.3" fill="#c0c0c0"/>
<rect x="604" y="748.4" width="1" height="3.5" fill="#c0c0c0"/>
<rect x="608" y="746.2" width="1" height="5.6" fill="#c0c0c0"/>
<rect x="612" y="746.0" width="1" height="5.8" fill="#c0c0c0"/>
<rect x="616" y="747.2" width="1" height="4.7" fill="#c0c0c0"/>
<rect x="620" y="746.8" width="1" height="5.0" fill="#c0c0c0"/>
<rect x="624" y="746.6" width="1" height="5.2" fill="#c0c0c0"/>
<rect x="628" y="747.6" width="1" height="4.2" fill="#c0c0c0"/>
<rect x="632" y="749.2" width="1" height="2.6" fill="#c0c0c0"/>
<rect x="636" y="751.4" width="1" height="0.5" fill="#c0c0c0"/>
<rect x="640" y="751.8" width="1" height="1.6" fill="#c0c0c0"/>
<rect x="644" y="751.8" width="1" height="0.5" fill="#c0c0c0"/>
<rect x="648" y="751.4" width="1" height="0.5" fill="#c0c0c0"/>
<rect x="652" y="750.8" width="1" height="1.1" fill="#c0c0c0"/>
<rect x="656" y="750.7" width="1" height="1.2" fill="#c0c0c0"/>
<rect x="660" y="749.3" width="1" height="2.5" fill="#c0c0c0"/>
<rect x="664" y="750.9" width="1" height="0.9" fill="#c0c0c0"/>
<rect x="668" y="751.8" width="1" height="1.3" fill="#c0c0c0"/>
<rect x="672" y="751.8" width="1" height="2.7" fill="#c0c0c0"/>
<rect x="676" y="751.8" width="1" height="2.3" fill="#c0c0c0"/>
<rect x="680" y="751.8" width="1" height="2.2" fill="#c0c0c0"/>
<rect x="684" y="751.8" width="1" height="0.8" fill="#c0c0c0"/>
<rect x="688" y="751.7" width="1" height="0.5" fill="#c0c0c0"/>
<rect x="692" y="750.8" width="1" height="1.0" fill="#c0c0c0"/>
<rect x="696" y="749.9" width="1" height="2.0" fill="#c0c0c0"/>
<rect x="700" y="751.4" width="1" height="0.5" fill="#c0c0c0"/>
<rect x="704" y="751.8" width="1" height="2.1" fill="#c0c0c0"/>
<rect x="708" y="751.8" width="1" height="3.6" fill="#c0c0c0"/>
<rect x="712" y="751.8" width="1" height="4.1" fill="#c0c0c0"/>
<rect x="716" y="751.8" width="1" height="3.3" fill="#c0c0c0"/>
<rect x="720" y="751.8" width="1" height="3.0" fill="#c0c0c0"/>
<rect x="724" y="751.8" width="1" height="3.2" fill="#c0c0c0"/>
<rect x="728" y="751.8" width="1" height="5.6" fill="#c0c0c0"/>
<rect x="732" y="751.8" width="1" height="8.0" fill="#c0c0c0"/>
<rect x="736" y="751.8" width="1" height="10.1" fill="#c0c0c0"/>
<rect x="740" y="751.8" width="1" height="10.9" fill="#c0c0c0"/>
<rect x="744" y="751.8" width="1" height="12.0" fill="#c0c0c0"/>
<rect x="748" y="751.8" width="1" height="15.4" fill="#c0c0c0"/>
<rect x="752" y="751.8" width="1" height="19.2" fill="#c0c0c0"/>
<rect x="756" y="751.8" width="1" height="22.4" fill="#c0c0c0"/>
<rect x="760" y="751.8" width="1" height="24.2" fill="#c0c0c0"/>
<rect x="764" y="751.8" width="1" height="26.7" fill="#c0c0c0"/>
<rect x="768" y="751.8" width="1" height="28.3" fill="#c0c0c0"/>
<rect x="772" y="751.8" width="1" height="30.0" fill="#c0c0c0"/>
<rect x="776" y="751.8" width="1" height="30.2" fill="#c0c0c0"/>
<rect x="780" y="751.8" width="1" height="30.7" fill="#c0c0c0"/>
<rect x="784" y="751.8" width="1" height="28.0" fill="#c0c0c0"/>
<rect x="788" y="751.8" width="1" height="25.2" fill="#c0c0c0"/>
<rect x="792" y="751.8" width="1" height="22.3" fill="#c0c0c0"/>
<rect x="796" y="751.8" width="1" height="19.8" fill="#c0c0c0"/>
<rect x="800" y="751.8" width="1" height="18.1" fill="#c0c0c0"/>
<rect x="804" y="751.8" width="1" height="16.5" fill="#c0c0c0"/>
<rect x="808" y="751.8" width="1" height="15.0" fill="#c0c0c0"/>
<rect x="812" y="751.8" width="1" height="13.5" fill="#c0c0c0"/>
<rect x="816" y="751.8" width="1" height="12.0" fill="#c0c0c0"/>
<rect x="820" y="751.8" width="1" height="11.8" fill="#c0c0c0"/>
<rect x="824" y="751.8" width="1" height="12.0" fill="#c0c0c0"/>
<rect x="828" y="751.8" width="1" height="10.5" fill="#c0c0c0"/>
<rect x="832" y="751.8" width="1" height="8.4" fill="#c0c0c0"/>
<rect x="836" y="751.8" width="1" height="6.1" fill="#c0c0c0"/>
<rect x="840" y="751.8" width="1" height="4.6" fill="#c0c0c0"/>
<rect x="844" y="751.8" width="1" height="3.1" fill="#c0c0c0"/>
<rect x="848" y="751.8" width="1" height="3.2" fill="#c0c0c0"/>
<rect x="852" y="751.8" width="1" height="4.1" fill="#c0c0c0"/>
<rect x="856" y="751.8" width="1" height="4.1" fill="#c0c0c0"/>
<rect x="860" y="751.8" width="1" height="4.5" fill="#c0c0c0"/>
<rect x="864" y="751.8" width="1" height="4.6" fill="#c0c0c0"/>
<rect x="868" y="751.8" width="1" height="5.1" fill="#c0c0c0"/>
<rect x="872" y="751.8" width="1" height="4.6" fill="#c0c0c0"/>
<rect x="876" y="751.8" width="1" height="5.1" fill="#c0c0c0"/>
<rect x="880" y="751.8" width="1" height="4.7" fill="#c0c0c0"/>
<rect x="884" y="751.8" width="1" height="4.2" fill="#c0c0c0"/>
<rect x="888" y="751.8" width="1" height="3.8" fill="#c0c0c0"/>
<rect x="892" y="751.8" width="1" height="3.9" fill="#c0c0c0"/>
<rect x="896" y="751.8" width="1" height="3.2" fill="#c0c0c0"/>
<rect x="900" y="751.8" width="1" height="3.9" fill="#c0c0c0"/>
<rect x="904" y="751.8" width="1" height="4.1" fill="#c0c0c0"/>
<rect x="908" y="751.8" width="1" height="3.7" fill="#c0c0c0"/>
<rect x="912" y="751.8" width="1" height="3.4" fill="#c0c0c0"/>
<rect x="916" y="751.8" width="1" height="3.7" fill="#c0c0c0"/>
<rect x="920" y="751.8" width="1" height="5.4" fill="#c0c0c0"/>
<rect x="924" y="751.8" width="1" height="7.1" fill="#c0c0c0"/>
<rect x="928" y="751.8" width="1" height="9.0" fill="#c0c0c0"/>
<rect x="932" y="751.8" width="1" height="9.5" fill="#c0c0c0"/>
<rect x="936" y="751.8" width="1" height="9.7" fill="#c0c0c0"/>
<rect x="940" y="751.8" width="1" height="10.5" fill="#c0c0c0"/>
<rect x="944" y="751.8" width="1" height="11.3" fill="#c0c0c0"/>
<rect x="948" y="751.8" width="1" height="11.6" fill="#c0c0c0"/>
<rect x="952" y="751.8" width="1" height="10.7" fill="#c0c0c0"/>
<rect x="956" y="751.8" width="1" height="10.6" fill="#c0c0c0"/>
<rect x="960" y="751.8" width="1" height="10.6" fill="#c0c0c0"/>
<rect x="964" y="751.8" width="1" height="10.1" fill="#c0c0c0"/>
<rect x="968" y="751.8" width="1" height="10.2" fill="#c0c0c0"/>
<rect x="972" y="751.8" width="1" height="11.8" fill="#c0c0c0"/>
<rect x="976" y="751.8" width="1" height="12.5" fill="#c0c0c0"/>
<rect x="980" y="751.8" width="1" height="11.3" fill="#c0c0c0"/>
<rect x="984" y="751.8" width="1" height="10.3" fill="#c0c0c0"/>
<rect x="988" y="751.8" width="1" height="10.0" fill="#c0c0c0"/>
<rect x="992" y="751.8" width="1" height="10.5" fill="#c0c0c0"/>
<rect x="996" y="751.8" width="1" height="11.5" fill="#c0c0c0"/>
<rect x="1000" y="751.8" width="1" height="12.6" fill="#c0c0c0"/>
<rect x="1004" y="751.8" width="1" height="12.7" fill="#c0c0c0"/>
<rect x="1008" y="751.8" width="1" height="12.6" fill="#c0c0c0"/>
<rect x="1012" y="751.8" width="1" height="13.2" fill="#c0c0c0"/>
<rect x="1016" y="751.8" width="1" height="14.0" fill="#c0c0c0"/>
<rect x="1020" y="751.8" width="1" height="14.5" fill="#c0c0c0"/>
<rect x="1024" y="751.8" width="1" height="14.6" fill="#c0c0c0"/>
<rect x="1028" y="751.8" width="1" height="14.1" fill="#c0c0c0"/>
<rect x="1032" y="751.8" width="1" height="13.9" fill="#c0c0c0"/>
<rect x="1036" y="751.8" width="1" height="13.0" fill="#c0c0c0"/>
<rect x="1040" y="751.8" width="1" height="12.5" fill="#c0c0c0"/>
<rect x="1044" y="751.8" width="1" height="12.8" fill="#c0c0c0"/>
<rect x="1048" y="751.8" width="1" height="13.5" fill="#c0c0c0"/>
<rect x="1052" y="751.8" width="1" height="13.9" fill="#c0c0c0"/>
<rect x="1056" y="751.8" width="1" height="14.3" fill="#c0c0c0"/>
<rect x="1060" y="751.8" width="1" height="15.3" fill="#c0c0c0"/>
<rect x="1064" y="751.8" width="1" height="15.8" fill="#c0c0c0"/>
<rect x="1068" y="751.8" width="1" height="15.7" fill="#c0c0c0"/>
<rect x="1072" y="751.8" width="1" height="14.2" fill="#c0c0c0"/>
<rect x="1076" y="751.8" width="1" height="13.6" fill="#c0c0c0"/>
<rect x="1080" y="751.8" width="1" height="13.7" fill="#c0c0c0"/>
<rect x="1084" y="751.8" width="1" height="13.0" fill="#c0c0c0"/>
<rect x="1088" y="751.8" width="1" height="10.6" fill="#c0c0c0"/>
<rect x="1092" y="751.8" width="1" height="8.9" fill="#c0c0c0"/>
<rect x="1096" y="751.8" width="1" height="7.8" fill="#c0c0c0"/>
<rect x="1100" y="751.8" width="1" height="6.5" fill="#c0c0c0"/>
<rect x="1104" y="751.8" width="1" height="5.2" fill="#c0c0c0"/>
<rect x="1108" y="751.8" width="1" height="4.4" fill="#c0c0c0"/>
<rect x="1112" y="751.8" width="1" height="3.3" fill="#c0c0c0"/>
<rect x="1116" y="751.8" width="1" height="2.9" fill="#c0c0c0"/>
<rect x="1120" y="751.8" width="1" height="1.9" fill="#c0c0c0"/>
<rect x="1124" y="751.8" width="1" height="1.7" fill="#c0c0c0"/>
<rect x="1128" y="751.8" width="1" height="1.2" fill="#c0c0c0"/>
<rect x="1132" y="750.6" width="1" height="1.2" fill="#c0c0c0"/>
<rect x="1136" y="748.8" width="1" height="3.0" fill="#c0c0c0"/>
<rect x="1140" y="746.6" width="1" height="5.2" fill="#c0c0c0"/>
<rect x="1144" y="745.0" width="1" height="6.9" fill="#c0c0c0"/>
<rect x="1148" y="743.1" width="1" height="8.7" fill="#c0c0c0"/>
<rect x="1152" y="742.1" width="1" height="9.8" fill="#c0c0c0"/>
<rect x="1156" y="741.7" width="1" height="10.1" fill="#c0c0c0"/>
<rect x="1160" y="740.9" width="1" height="11.0" fill="#c0c0c0"/>
<rect x="1164" y="741.8" width="1" height="10.0" fill="#c0c0c0"/>
<rect x="1168" y="743.0" width="1" height="8.8" fill="#c0c0c0"/>
<rect x="1172" y="743.6" width="1" height="8.2" fill="#c0c0c0"/>
<rect x="1176" y="744.6" width="1" height="7.2" fill="#c0c0c0"/>
<rect x="1180" y="745.8" width="1" height="6.0" fill="#c0c0c0"/>
<rect x="1184" y="746.8" width="1" height="5.0" fill="#c0c0c0"/>
<rect x="1188" y="747.5" width="1" height="4.4" fill="#c0c0c0"/>
<rect x="1192" y="749.1" width="1" height="2.8" fill="#c0c0c0"/>
<rect x="1196" y="751.8" width="1" height="0.5" fill="#c0c0c0"/>
<rect x="1200" y="751.8" width="1" height="2.1" fill="#c0c0c0"/>
<rect x="1204" y="751.8" width="1" height="3.9" fill="#c0c0c0"/>
<rect x="1208" y="751.8" width="1" height="4.9" fill="#c0c0c0"/>
<rect x="1212" y="751.8" width="1" height="5.6" fill="#c0c0c0"/>
<rect x="1216" y="751.8" width="1" height="4.5" fill="#c0c0c0"/>
<rect x="1220" y="751.8" width="1" height="4.3" fill="#c0c0c0"/>
<rect x="1224" y="751.8" width="1" height="4.4" fill="#c0c0c0"/>
<rect x="1228" y="751.8" width="1" height="4.9" fill="#c0c0c0"/>
<rect x="1232" y="751.8" width="1" height="5.7" fill="#c0c0c0"/>
<rect x="1236" y="751.8" width="1" height="6.0" fill="#c0c0c0"/>
<rect x="1240" y="751.8" width="1" height="6.1" fill="#c0c0c0"/>
<rect x="1244" y="751.8" width="1" height="6.1" fill="#c0c0c0"/>
<rect x="1248" y="751.8" width="1" height="5.9" fill="#c0c0c0"/>
<rect x="1252" y="751.8" width="1" height="4.6" fill="#c0c0c0"/>
<rect x="1256" y="751.8" width="1" height="4.5" fill="#c0c0c0"/>
<rect x="1260" y="751.8" width="1" height="1.7" fill="#c0c0c0"/>
<rect x="1264" y="750.8" width="1" height="1.0" fill="#c0c0c0"/>
<rect x="1268" y="749.6" width="1" height="2.2" fill="#c0c0c0"/>
</g>
<g clip-path="url(#cd)" shape-rendering="crispEdges">
<polyline points="4.5,760.30 8.5,760.86 12.5,761.11 16.5,761.12 20.5,760.94 24.5,760.61 28.5,760.17 32.5,759.52 36.5,758.67 40.5,757.75 44.5,756.72 48.5,755.78 52.5,754.89 56.5,754.01 60.5,753.14 64.5,752.25 68.5,751.44 72.5,750.73 76.5,750.11 80.5,749.63 84.5,749.16 88.5,748.71 92.5,748.28 96.5,747.91 100.5,747.56 104.5,747.20 108.5,746.90 112.5,746.58 116.5,746.30 120.5,746.18 124.5,746.11 128.5,746.11 132.5,746.29 136.5,746.71 140.5,747.15 144.5,747.60 148.5,748.11 152.5,748.61 156.5,749.15 160.5,749.84 164.5,750.57 168.5,751.25 172.5,751.84 176.5,752.49 180.5,753.24 184.5,753.97 188.5,754.65 192.5,755.23 196.5,755.62 200.5,755.96 204.5,756.20 208.5,756.39 212.5,756.62 216.5,756.82 220.5,757.05 224.5,757.52 228.5,758.13 232.5,758.88 236.5,759.68 240.5,760.52 244.5,761.33 248.5,761.95 252.5,762.36 256.5,762.50 260.5,762.35 264.5,762.00 268.5,761.48 272.5,760.82 276.5,760.10 280.5,759.33 284.5,758.59 288.5,757.89 292.5,757.34 296.5,756.82 300.5,756.25 304.5,755.58 308.5,754.91 312.5,754.17 316.5,753.32 320.5,752.41 324.5,751.46 328.5,750.41 332.5,749.32 336.5,748.30 340.5,747.32 344.5,746.35 348.5,745.41 352.5,744.54 356.5,743.74 360.5,743.05 364.5,742.44 368.5,741.97 372.5,741.66 376.5,741.57 380.5,741.63 384.5,741.88 388.5,742.29 392.5,742.81 396.5,743.44 400.5,744.18 404.5,744.96 408.5,745.75 412.5,746.39 416.5,746.92 420.5,747.31 424.5,747.46 428.5,747.33 432.5,747.00 436.5,746.52 440.5,746.02 444.5,745.37 448.5,744.72 452.5,744.07 456.5,743.45 460.5,742.79 464.5,741.76 468.5,740.48 472.5,738.78 476.5,736.46 480.5,733.92 484.5,731.15 488.5,727.89 492.5,723.68 496.5,719.09 500.5,714.86 504.5,710.78 508.5,706.91 512.5,703.57 516.5,700.79 520.5,699.07 524.5,698.54 528.5,699.73 532.5,701.76 536.5,704.33 540.5,707.26 544.5,710.75 548.5,714.53 552.5,718.22 556.5,721.36 560.5,724.34 564.5,726.87 568.5,729.46 572.5,732.01 576.5,734.69 580.5,737.30 584.5,739.92 588.5,742.20 592.5,744.06 596.5,745.50 600.5,746.70 604.5,747.55 608.5,747.87 612.5,747.90 616.5,747.84 620.5,747.47 624.5,747.22 628.5,747.26 632.5,747.40 636.5,747.71 640.5,748.27 644.5,748.92 648.5,749.52 652.5,749.92 656.5,750.34 660.5,750.65 664.5,751.02 668.5,751.46 672.5,751.81 676.5,751.88 680.5,752.10 684.5,752.24 688.5,752.34 692.5,752.36 696.5,752.42 700.5,752.47 704.5,752.56 708.5,752.65 712.5,752.85 716.5,752.97 720.5,753.21 724.5,753.58 728.5,754.31 732.5,755.42 736.5,756.59 740.5,757.57 744.5,758.50 748.5,759.76 752.5,761.54 756.5,763.69 760.5,766.03 764.5,768.38 768.5,770.64 772.5,772.86 776.5,775.00 780.5,777.09 784.5,778.49 788.5,779.15 792.5,779.14 796.5,778.65 800.5,777.69 804.5,776.38 808.5,774.70 812.5,772.84 816.5,770.77 820.5,768.96 824.5,767.49 828.5,766.19 832.5,764.93 836.5,763.60 840.5,762.28 844.5,760.95 848.5,759.81 852.5,758.93 856.5,758.08 860.5,757.24 864.5,756.59 868.5,756.21 872.5,756.05 876.5,756.10 880.5,756.29 884.5,756.40 888.5,756.36 892.5,756.34 896.5,756.20 900.5,756.12 904.5,756.02 908.5,755.92 912.5,755.72 916.5,755.61 920.5,755.74 924.5,756.10 928.5,756.66 932.5,757.36 936.5,758.00 940.5,758.71 944.5,759.55 948.5,760.47 952.5,761.24 956.5,761.83 960.5,762.22 964.5,762.34 968.5,762.42 972.5,762.65 976.5,762.88 980.5,762.87 984.5,762.73 988.5,762.65 992.5,762.63 996.5,762.73 1000.5,763.01 1004.5,763.30 1008.5,763.39 1012.5,763.47 1016.5,763.77 1020.5,764.23 1024.5,764.74 1028.5,765.15 1032.5,765.42 1036.5,765.45 1040.5,765.43 1044.5,765.45 1048.5,765.48 1052.5,765.47 1056.5,765.45 1060.5,765.54 1064.5,765.72 1068.5,765.92 1072.5,766.06 1076.5,766.18 1080.5,766.28 1084.5,766.22 1088.5,765.85 1092.5,765.26 1096.5,764.42 1100.5,763.38 1104.5,762.22 1108.5,761.13 1112.5,759.99 1116.5,758.78 1120.5,757.56 1124.5,756.57 1128.5,755.70 1132.5,754.70 1136.5,753.65 1140.5,752.49 1144.5,751.24 1148.5,749.90 1152.5,748.50 1156.5,747.16 1160.5,745.75 1164.5,744.50 1168.5,743.66 1172.5,743.08 1176.5,742.86 1180.5,742.96 1184.5,743.37 1188.5,743.97 1192.5,744.79 1196.5,746.02 1200.5,747.37 1204.5,748.78 1208.5,750.23 1212.5,751.65 1216.5,752.82 1220.5,753.86 1224.5,754.83 1228.5,755.68 1232.5,756.31 1236.5,756.74 1240.5,756.98 1244.5,757.11 1248.5,757.15 1252.5,757.16 1256.5,757.18 1260.5,756.88 1264.5,756.23 1268.5,755.35" fill="none" stroke="#ff0000" stroke-width="1" stroke-dasharray="3,3"/>
</g>
<text x="8.20" y="699.00" font-size="9.5" fill="#000" color="#000" textLength="151.00" lengthAdjust="spacingAndGlyphs">MACD(12,26,9) 0.001133 -0.001818</text>
<rect x="1597" y="751" width="3" height="1" fill="#000"/>
<text x="1600.00" y="697.00" font-size="9.5" fill="#000" color="#000">0.032972</text>
<text x="1600.00" y="754.50" font-size="9.5" fill="#000" color="#000">0.00</text>
<text x="1600.00" y="784.00" font-size="9.5" fill="#000" color="#000">-0.018154</text>
<g shape-rendering="crispEdges">
<rect x="4" y="788" width="1" height="3" fill="#000"/>
<text x="3.00" y="800.00" font-size="9.5" fill="#000" color="#000" textLength="50.80" lengthAdjust="spacingAndGlyphs">28 Oct 2019</text>
<rect x="68" y="788" width="1" height="3" fill="#000"/>
<text x="67.00" y="800.00" font-size="9.5" fill="#000" color="#000" textLength="53.00" lengthAdjust="spacingAndGlyphs">15 Nov 2019</text>
<rect x="132" y="788" width="1" height="3" fill="#000"/>
<text x="131.00" y="800.00" font-size="9.5" fill="#000" color="#000" textLength="46.70" lengthAdjust="spacingAndGlyphs">4 Dec 2019</text>
<rect x="196" y="788" width="1" height="3" fill="#000"/>
<text x="195.00" y="800.00" font-size="9.5" fill="#000" color="#000" textLength="51.40" lengthAdjust="spacingAndGlyphs">23 Dec 2019</text>
<rect x="260" y="788" width="1" height="3" fill="#000"/>
<text x="259.00" y="800.00" font-size="9.5" fill="#000" color="#000" textLength="49.30" lengthAdjust="spacingAndGlyphs">10 Jan 2020</text>
<rect x="324" y="788" width="1" height="3" fill="#000"/>
<text x="323.00" y="800.00" font-size="9.5" fill="#000" color="#000" textLength="49.40" lengthAdjust="spacingAndGlyphs">29 Jan 2020</text>
<rect x="388" y="788" width="1" height="3" fill="#000"/>
<text x="387.00" y="800.00" font-size="9.5" fill="#000" color="#000" textLength="51.80" lengthAdjust="spacingAndGlyphs">17 Feb 2020</text>
<rect x="452" y="788" width="1" height="3" fill="#000"/>
<text x="451.00" y="800.00" font-size="9.5" fill="#000" color="#000" textLength="46.70" lengthAdjust="spacingAndGlyphs">6 Mar 2020</text>
<rect x="516" y="788" width="1" height="3" fill="#000"/>
<text x="515.00" y="800.00" font-size="9.5" fill="#000" color="#000" textLength="51.30" lengthAdjust="spacingAndGlyphs">25 Mar 2020</text>
<rect x="580" y="788" width="1" height="3" fill="#000"/>
<text x="579.00" y="800.00" font-size="9.5" fill="#000" color="#000" textLength="50.50" lengthAdjust="spacingAndGlyphs">13 Apr 2020</text>
<rect x="644" y="788" width="1" height="3" fill="#000"/>
<text x="643.00" y="800.00" font-size="9.5" fill="#000" color="#000" textLength="49.20" lengthAdjust="spacingAndGlyphs">1 May 2020</text>
<rect x="708" y="788" width="1" height="3" fill="#000"/>
<text x="707.00" y="800.00" font-size="9.5" fill="#000" color="#000" textLength="55.00" lengthAdjust="spacingAndGlyphs">20 May 2020</text>
<rect x="772" y="788" width="1" height="3" fill="#000"/>
<text x="771.00" y="800.00" font-size="9.5" fill="#000" color="#000" textLength="45.40" lengthAdjust="spacingAndGlyphs">8 Jun 2020</text>
<rect x="836" y="788" width="1" height="3" fill="#000"/>
<text x="835.00" y="800.00" font-size="9.5" fill="#000" color="#000" textLength="48.80" lengthAdjust="spacingAndGlyphs">26 Jun 2020</text>
<rect x="900" y="788" width="1" height="3" fill="#000"/>
<text x="899.00" y="800.00" font-size="9.5" fill="#000" color="#000" textLength="46.00" lengthAdjust="spacingAndGlyphs">15 Jul 2020</text>
<rect x="964" y="788" width="1" height="3" fill="#000"/>
<text x="963.00" y="800.00" font-size="9.5" fill="#000" color="#000" textLength="47.00" lengthAdjust="spacingAndGlyphs">3 Aug 2020</text>
<rect x="1028" y="788" width="1" height="3" fill="#000"/>
<text x="1027.00" y="800.00" font-size="9.5" fill="#000" color="#000" textLength="51.70" lengthAdjust="spacingAndGlyphs">21 Aug 2020</text>
<rect x="1092" y="788" width="1" height="3" fill="#000"/>
<text x="1091.00" y="800.00" font-size="9.5" fill="#000" color="#000" textLength="46.00" lengthAdjust="spacingAndGlyphs">9 Sep 2020</text>
<rect x="1156" y="788" width="1" height="3" fill="#000"/>
<text x="1155.00" y="800.00" font-size="9.5" fill="#000" color="#000" textLength="51.80" lengthAdjust="spacingAndGlyphs">28 Sep 2020</text>
<rect x="1220" y="788" width="1" height="3" fill="#000"/>
<text x="1219.00" y="800.00" font-size="9.5" fill="#000" color="#000" textLength="49.80" lengthAdjust="spacingAndGlyphs">16 Oct 2020</text>
</g>
<rect x="0" y="808" width="1638" height="1" fill="#e6e6e6"/>
<rect x="0" y="810" width="1638" height="1" fill="#000"/>
<rect x="0" y="811" width="1638" height="1" fill="#fafafa"/>
<rect x="0" y="812" width="1638" height="17" fill="#f0f0f0"/>
<rect x="0" y="829" width="1638" height="1" fill="#fcfcfc"/>
<rect x="0" y="830" width="1638" height="3" fill="#f0f0f0"/>
<rect x="0" y="811" width="1" height="18" fill="#5c5c5c"/>
<rect x="314" y="810" width="103" height="19" fill="#ffffff"/>
<rect x="313" y="810" width="1" height="19" fill="#000"/>
<rect x="416" y="810" width="1" height="19" fill="#000"/>
<rect x="313" y="828" width="104" height="1" fill="#000"/>
<text x="17.50" y="825.00" font-size="11.3" fill="#707070" color="#707070" textLength="79.10" lengthAdjust="spacingAndGlyphs" class="t">EURUSD,Daily</text>
<text x="119.00" y="825.00" font-size="11.3" fill="#707070" color="#707070" textLength="78.70" lengthAdjust="spacingAndGlyphs" class="t">USDCHF,Daily</text>
<text x="220.00" y="825.00" font-size="11.3" fill="#707070" color="#707070" textLength="81.80" lengthAdjust="spacingAndGlyphs" class="t">AUDUSD,Daily</text>
<text x="324.40" y="825.00" font-size="11.3" fill="#000" color="#000" textLength="80.10" lengthAdjust="spacingAndGlyphs" class="t">USDCAD,Daily</text>
<text x="426.90" y="825.00" font-size="11.3" fill="#707070" color="#707070" textLength="83.40" lengthAdjust="spacingAndGlyphs" class="t">USDCNH,Daily</text>
<text x="533.30" y="825.00" font-size="11.3" fill="#707070" color="#707070" textLength="79.50" lengthAdjust="spacingAndGlyphs" class="t">EURUSD,Daily</text>
<text x="637.20" y="825.00" font-size="11.3" fill="#707070" color="#707070" textLength="67.90" lengthAdjust="spacingAndGlyphs" class="t">GBPUSD,H4</text>
<text x="728.20" y="825.00" font-size="11.3" fill="#707070" color="#707070" textLength="68.70" lengthAdjust="spacingAndGlyphs" class="t">XAUUSD,H1</text>
<text x="820.00" y="825.00" font-size="11.3" fill="#707070" color="#707070" textLength="49.70" lengthAdjust="spacingAndGlyphs" class="t">HK50,H1</text>
<text x="891.90" y="825.00" font-size="11.3" fill="#707070" color="#707070" textLength="57.10" lengthAdjust="spacingAndGlyphs" class="t">UK100,H1</text>
<text x="971.80" y="825.00" font-size="11.3" fill="#707070" color="#707070" textLength="57.10" lengthAdjust="spacingAndGlyphs" class="t">UK100,H1</text>
<text x="1051.70" y="825.00" font-size="11.3" fill="#707070" color="#707070" textLength="56.60" lengthAdjust="spacingAndGlyphs" class="t">GER30,H1</text>
<text x="1131.00" y="825.00" font-size="11.3" fill="#707070" color="#707070" textLength="55.60" lengthAdjust="spacingAndGlyphs" class="t">FRA40,H1</text>
<text x="1206.90" y="825.00" font-size="11.3" fill="#707070" color="#707070" textLength="51.50" lengthAdjust="spacingAndGlyphs" class="t">USOil,H4</text>
<text x="1279.20" y="825.00" font-size="11.3" fill="#707070" color="#707070" textLength="63.20" lengthAdjust="spacingAndGlyphs" class="t">USDJPY,H1</text>
<text x="1363.60" y="825.00" font-size="11.3" fill="#707070" color="#707070" textLength="59.10" lengthAdjust="spacingAndGlyphs" class="t">DJ30,Daily</text>
<text x="1443.00" y="825.00" font-size="11.3" fill="#707070" color="#707070" textLength="78.80" lengthAdjust="spacingAndGlyphs" class="t">CHINA300,H1</text>
<text x="1543.00" y="825.00" font-size="11.3" fill="#707070" color="#707070" textLength="50.60" lengthAdjust="spacingAndGlyphs" class="t">USOil,H1</text>
<rect x="109" y="813" width="1" height="14" fill="#606060"/>
<rect x="209" y="813" width="1" height="14" fill="#606060"/>
<rect x="522" y="813" width="1" height="14" fill="#606060"/>
<rect x="626" y="813" width="1" height="14" fill="#606060"/>
<rect x="717" y="813" width="1" height="14" fill="#606060"/>
<rect x="810" y="813" width="1" height="14" fill="#606060"/>
<rect x="882" y="813" width="1" height="14" fill="#606060"/>
<rect x="962" y="813" width="1" height="14" fill="#606060"/>
<rect x="1042" y="813" width="1" height="14" fill="#606060"/>
<rect x="1121" y="813" width="1" height="14" fill="#606060"/>
<rect x="1198" y="813" width="1" height="14" fill="#606060"/>
<rect x="1270" y="813" width="1" height="14" fill="#606060"/>
<rect x="1354" y="813" width="1" height="14" fill="#606060"/>
<rect x="1434" y="813" width="1" height="14" fill="#606060"/>
<rect x="1534" y="813" width="1" height="14" fill="#606060"/>
<rect x="1605" y="813" width="1" height="14" fill="#606060"/>
<path d="M1616 817 L1616 824 L1612 820.5 Z" fill="#a0a0a0"/>
<path d="M1631 817 L1631 824 L1635 820.5 Z" fill="#000"/>
</svg></body></html>
